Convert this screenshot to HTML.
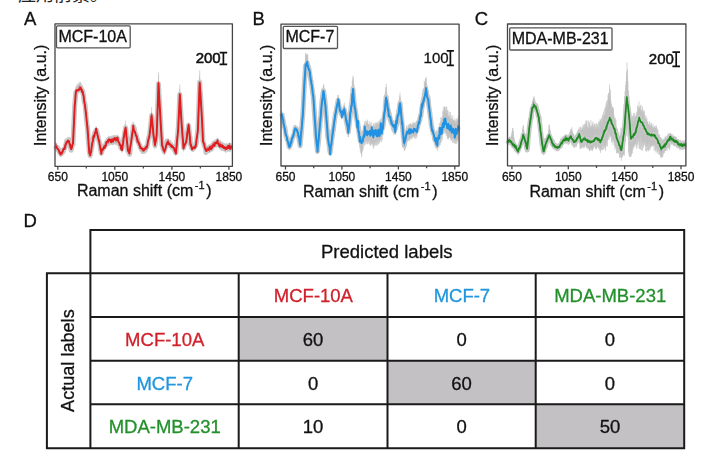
<!DOCTYPE html>
<html><head><meta charset="utf-8"><style>
html,body{margin:0;padding:0;background:#fff;}
body{width:709px;height:458px;overflow:hidden;position:relative;}
.top{position:absolute;left:18px;top:-15.7px;font-family:"Liberation Sans","Noto Sans CJK SC",sans-serif;font-size:18px;line-height:22px;color:#222;white-space:nowrap;letter-spacing:0px;}
svg{position:absolute;left:0;top:0;will-change:transform;}
svg text{font-family:"Liberation Sans",Arial,sans-serif;}
</style></head><body>
<div class="top">应用前景。</div>
<svg width="709" height="458" viewBox="0 0 709 458">
<path d="M55.6,143.8 L56.1,143.7 L56.6,144.8 L57.1,145.2 L57.3,145.2 L57.6,146.3 L58.1,147.1 L58.6,148.5 L59.1,149.1 L59.6,149.6 L60.1,150.2 L60.6,150.8 L60.8,151.7 L61.1,151.8 L61.6,151 L62.1,149.7 L62.6,150.1 L63.1,149.3 L63.6,147.4 L64.1,147.2 L64.6,145.2 L65.1,143.4 L65.6,143 L66.1,141.3 L66.6,139.5 L67.1,140.2 L67.6,139.4 L68.1,138.9 L68.6,138.7 L68.9,138.8 L69.1,139.8 L69.6,141.1 L70.1,143 L70.6,144.5 L71.1,146.3 L71.2,146 L71.6,144.6 L72.1,143.6 L72.6,141.4 L73,140.4 L73.1,137.9 L73.6,127 L74.1,115.4 L74.6,104.9 L74.7,102.5 L75.1,96.9 L75.6,91.2 L75.8,87.5 L76.1,88.8 L76.6,86.7 L77.1,86.9 L77.6,86.2 L78.1,85.1 L78.6,84.8 L79.1,84.7 L79.6,85.3 L80.1,84.7 L80.5,82.8 L80.6,83.5 L81.1,84.2 L81.6,84.7 L82.1,86.6 L82.6,89.2 L82.8,89.1 L83.1,90.4 L83.6,94.3 L84.1,96.1 L84.6,99.4 L85.1,102.8 L85.6,108 L86.1,112.1 L86.6,117.8 L87.1,122.1 L87.4,124.6 L87.6,126.9 L88.1,134.1 L88.6,141.3 L89.1,147.8 L89.3,150.6 L89.6,151.4 L90.1,152.9 L90.2,152.9 L90.6,150.7 L91.1,147.6 L91.6,144.8 L92.1,142.5 L92.6,139.8 L93.1,136.7 L93.2,136 L93.6,135.1 L94.1,133.4 L94.6,131.6 L95.1,131.2 L95.6,128.6 L96.1,127.8 L96.2,127.3 L96.6,128.5 L97.1,130.7 L97.6,133.5 L98.1,134.9 L98.6,137.7 L99,139 L99.1,138.9 L99.6,141.9 L100.1,144.2 L100.6,146.5 L101.1,148.8 L101.3,149.9 L101.6,150.3 L102.1,148.6 L102.6,147.5 L103.1,147 L103.6,145.2 L104.1,144.3 L104.6,143 L105.1,142 L105.6,142.6 L106.1,141.6 L106.6,139.9 L107.1,140.1 L107.6,139.1 L108.1,137.6 L108.2,138.2 L108.6,136.9 L109.1,136.7 L109.6,138.2 L110.1,137.1 L110.6,136.4 L111.1,136 L111.6,137.2 L112.1,137.3 L112.6,135.8 L112.9,135.7 L113.1,137.1 L113.6,136.6 L114.1,136.1 L114.6,135.8 L115.1,137.1 L115.6,136.2 L116.1,135.9 L116.6,136.4 L117.1,137.2 L117.5,137.4 L117.6,137.1 L118.1,136.8 L118.6,139 L119.1,139.8 L119.6,139.9 L119.8,140.8 L120.1,141.3 L120.6,142.8 L121.1,143.1 L121.6,144 L122.1,145.7 L122.6,143.1 L123.1,139.5 L123.6,135.5 L124.1,131.2 L124.6,127.6 L125.1,126.3 L125.6,123.7 L126.1,126.7 L126.6,132 L127.1,138.6 L127.6,143.4 L127.9,146.6 L128.1,147.5 L128.6,148.1 L129.1,150.2 L129.5,150.5 L129.6,149.8 L130.1,146.6 L130.6,141.8 L131.1,139.5 L131.6,134.6 L132.1,132 L132.6,127.7 L133.1,124 L133.2,123.8 L133.6,124.2 L134.1,125.9 L134.6,128.1 L135.1,129.2 L135.6,131.9 L136.1,133.5 L136.6,134.8 L137.1,136.3 L137.2,136.9 L137.6,137.1 L138.1,138.6 L138.6,140.9 L139.1,141.9 L139.6,143.4 L140.1,144.5 L140.6,146.1 L141.1,146.2 L141.6,146.1 L142.1,147.2 L142.6,147.2 L143.1,147.7 L143.5,147.8 L143.6,148.6 L144.1,147.2 L144.6,146.4 L145.1,146.4 L145.6,146.2 L146.1,145.2 L146.6,144.7 L146.9,144.4 L147.1,144.2 L147.6,140.8 L148.1,138.4 L148.6,136.7 L149.1,133.8 L149.6,132 L149.7,129.6 L150.1,125.3 L150.6,120 L151.1,114 L151.6,110.8 L152.1,115.7 L152.6,121.6 L153.1,126.6 L153.4,131.3 L153.6,131.4 L154.1,136.4 L154.6,140.3 L155,143.7 L155.1,142.2 L155.6,138.3 L156.1,134.5 L156.6,131 L156.7,128.7 L157.1,118.2 L157.6,100.2 L158.1,85.9 L158.5,75.8 L158.6,76.5 L159.1,85.8 L159.6,97.7 L160.1,106.3 L160.4,113.8 L160.6,116.6 L161.1,126.4 L161.6,136.7 L162,143.1 L162.1,143.8 L162.6,144.6 L163.1,146.1 L163.6,147.5 L164.1,148.2 L164.3,149.8 L164.6,148.2 L165.1,147 L165.6,145.8 L166.1,143.4 L166.6,142.1 L167.1,140.1 L167.3,139.9 L167.6,140.5 L168.1,140.1 L168.6,141.6 L169.1,142.1 L169.6,141.6 L170.1,142.5 L170.6,143 L171.1,142.9 L171.6,144 L172.1,143.8 L172.6,144.6 L173.1,145.5 L173.6,146.4 L174.1,147.2 L174.6,147.2 L175.1,148.9 L175.6,150.2 L175.9,150.6 L176.1,147.8 L176.6,143.6 L177.1,137.2 L177.6,132.7 L178.1,124.6 L178.2,124.5 L178.6,116.5 L179.1,101.1 L179.6,92 L179.8,85.9 L180.1,91.7 L180.6,102.2 L181.1,111 L181.6,119.8 L181.7,121.5 L182.1,127.5 L182.6,134.4 L183.1,139.8 L183.5,146.3 L183.6,145.5 L184.1,144.8 L184.6,143.4 L185.1,141.5 L185.6,140 L186.1,139.4 L186.3,139.5 L186.6,136.1 L187.1,133.8 L187.6,129.8 L188.1,126.1 L188.6,122.1 L189.1,127.1 L189.6,132.2 L190.1,137.4 L190.5,140.7 L190.6,141 L191.1,142.8 L191.6,144.8 L192.1,147.4 L192.6,146.9 L193.1,146.3 L193.6,145.9 L194.1,145.2 L194.6,145.6 L195.1,144.7 L195.6,144.7 L196.1,140.3 L196.6,137.2 L197.1,132.5 L197.6,128.7 L197.9,125.6 L198.1,117.8 L198.6,105.2 L199.1,88.3 L199.6,76.2 L199.7,75.9 L200.1,79.1 L200.6,91.6 L201.1,98.3 L201.6,110.1 L202.1,119.5 L202.6,130.9 L203,138.8 L203.1,138.3 L203.6,140.6 L204.1,142 L204.6,143.5 L205.1,145.8 L205.6,146.4 L206,147.4 L206.1,148.4 L206.6,147.6 L207.1,147.8 L207.6,146.9 L208.1,147.7 L208.6,146.7 L209.1,146 L209.4,146 L209.6,146.8 L210.1,145 L210.6,145.5 L211.1,143.9 L211.6,143.9 L212.1,144 L212.6,142.4 L213.1,141.8 L213.6,141.5 L214.1,140.6 L214.6,141.5 L215.1,141.2 L215.6,141 L216.1,140 L216.6,139.9 L217.1,139.6 L217.5,139.2 L217.6,139.6 L218.1,140.6 L218.6,140.2 L219.1,141.1 L219.6,141.2 L220.1,140.9 L220.6,142.7 L221,142.3 L221.1,142.3 L221.6,143.2 L222.1,143.1 L222.6,142.5 L223.1,143.9 L223.6,143.5 L224.1,143.5 L224.6,144.6 L225.1,143.8 L225.6,144.7 L226.1,144.8 L226.6,144.3 L227.1,144.8 L227.6,144.1 L228.1,144.8 L228.6,143.6 L229.1,144.2 L229.6,144.6 L230.1,144.2 L230.6,143.3 L231.1,143.3 L231.6,143.8 L231.6,150.2 L231.1,149.7 L230.6,149.4 L230.1,149.8 L229.6,150.3 L229.1,151.2 L228.6,151.4 L228.1,151.1 L227.6,151.5 L227.1,151 L226.6,150.1 L226.1,150.8 L225.6,151.9 L225.1,150.1 L224.6,150 L224.1,150.7 L223.6,149.9 L223.1,150.5 L222.6,149.7 L222.1,149.9 L221.6,148.9 L221.1,149.2 L221,148.9 L220.6,148.6 L220.1,148 L219.6,146.8 L219.1,146.7 L218.6,146.3 L218.1,145.9 L217.6,144.7 L217.5,145.7 L217.1,145.5 L216.6,146.6 L216.1,146.7 L215.6,146.2 L215.1,146.4 L214.6,146.9 L214.1,148.3 L213.6,148.1 L213.1,149.3 L212.6,149.5 L212.1,149.7 L211.6,149.8 L211.1,151 L210.6,151.5 L210.1,151.5 L209.6,151 L209.4,151.4 L209.1,152.3 L208.6,152.3 L208.1,152.1 L207.6,151.7 L207.1,152.7 L206.6,152.1 L206.1,153 L206,153.3 L205.6,151.1 L205.1,149.7 L204.6,148.5 L204.1,147.4 L203.6,145.1 L203.1,144.3 L203,143.9 L202.6,135.8 L202.1,126 L201.6,116 L201.1,107.6 L200.6,99.3 L200.1,91 L199.7,84.1 L199.6,87.5 L199.1,100 L198.6,114.2 L198.1,126.5 L197.9,131.4 L197.6,134.3 L197.1,138 L196.6,141.5 L196.1,145.1 L195.6,149.5 L195.1,149.7 L194.6,149.3 L194.1,150.6 L193.6,150.2 L193.1,151.6 L192.6,151 L192.1,151.1 L191.6,150.2 L191.1,147.7 L190.6,146.2 L190.5,146.5 L190.1,141.2 L189.6,137.2 L189.1,131.9 L188.6,126.6 L188.1,130.6 L187.6,133.8 L187.1,137.7 L186.6,141.8 L186.3,143.5 L186.1,144.1 L185.6,144.7 L185.1,147 L184.6,147.1 L184.1,148.7 L183.6,149.9 L183.5,151.1 L183.1,145.6 L182.6,139.5 L182.1,132.8 L181.7,127.7 L181.6,125.5 L181.1,118 L180.6,109.1 L180.1,102 L179.8,97.6 L179.6,101.1 L179.1,112 L178.6,123.7 L178.2,132.5 L178.1,132.7 L177.6,138.1 L177.1,142.5 L176.6,147.9 L176.1,152.8 L175.9,154.8 L175.6,154.8 L175.1,153.4 L174.6,152.4 L174.1,151.3 L173.6,150.4 L173.1,149.7 L172.6,148.9 L172.1,149.5 L171.6,148.9 L171.1,148 L170.6,147 L170.1,147.1 L169.6,145.9 L169.1,145.7 L168.6,145.3 L168.1,145.6 L167.6,145.5 L167.3,144.3 L167.1,145.4 L166.6,146.7 L166.1,147.7 L165.6,150.3 L165.1,151 L164.6,153.1 L164.3,154.6 L164.1,152.7 L163.6,152.6 L163.1,150.8 L162.6,149.3 L162.1,148.5 L162,148.5 L161.6,140.9 L161.1,132.1 L160.6,124.3 L160.4,121 L160.1,114.2 L159.6,105.1 L159.1,96.9 L158.6,86.8 L158.5,85.4 L158.1,96.5 L157.6,110.5 L157.1,125 L156.7,137 L156.6,137.5 L156.1,140.9 L155.6,144.2 L155.1,146.9 L155,148.3 L154.6,144.9 L154.1,140.9 L153.6,138.4 L153.4,136.1 L153.1,133.7 L152.6,127.7 L152.1,123.4 L151.6,118.7 L151.1,123.1 L150.6,128 L150.1,131.9 L149.7,136.9 L149.6,136.2 L149.1,139.8 L148.6,141.9 L148.1,143.9 L147.6,145.5 L147.1,148.6 L146.9,149.7 L146.6,149.3 L146.1,149.9 L145.6,150.6 L145.1,150.4 L144.6,151.2 L144.1,152.6 L143.6,152.7 L143.5,152.7 L143.1,152.1 L142.6,152.5 L142.1,151.6 L141.6,150.7 L141.1,150.2 L140.6,150 L140.1,149.8 L139.6,148.1 L139.1,146.1 L138.6,144.6 L138.1,143.7 L137.6,142.2 L137.2,141.7 L137.1,141.2 L136.6,140 L136.1,137.6 L135.6,136.7 L135.1,135 L134.6,133.4 L134.1,132.7 L133.6,131.2 L133.2,129 L133.1,130.8 L132.6,134.1 L132.1,137.5 L131.6,140.1 L131.1,143.9 L130.6,148.2 L130.1,150.6 L129.6,154.8 L129.5,154.6 L129.1,154.3 L128.6,153.5 L128.1,153.3 L127.9,152.5 L127.6,149.9 L127.1,145.3 L126.6,139.4 L126.1,134.9 L125.6,129.7 L125.1,133.3 L124.6,136.4 L124.1,138.8 L123.6,142 L123.1,145.7 L122.6,148.6 L122.1,152.4 L121.6,152.1 L121.1,149.8 L120.6,148.3 L120.1,146.7 L119.8,146 L119.6,145.5 L119.1,146.2 L118.6,144.1 L118.1,145 L117.6,144.3 L117.5,142.7 L117.1,142.5 L116.6,144.1 L116.1,143.6 L115.6,143.7 L115.1,144 L114.6,142.9 L114.1,143.8 L113.6,143 L113.1,142.4 L112.9,142.8 L112.6,143.4 L112.1,143 L111.6,143.1 L111.1,143.9 L110.6,143.8 L110.1,144.8 L109.6,144.4 L109.1,144.4 L108.6,144.4 L108.2,145.3 L108.1,145.5 L107.6,144.3 L107.1,145.6 L106.6,146.9 L106.1,146.7 L105.6,147.9 L105.1,149.4 L104.6,150.3 L104.1,150.3 L103.6,151.6 L103.1,152.6 L102.6,152.6 L102.1,153.4 L101.6,154 L101.3,155.2 L101.1,154.2 L100.6,151.4 L100.1,148.5 L99.6,147 L99.1,143.3 L99,144.1 L98.6,141.8 L98.1,139.7 L97.6,138.3 L97.1,135.4 L96.6,133.7 L96.2,131.9 L96.1,131.7 L95.6,134.4 L95.1,135.4 L94.6,136.3 L94.1,138.9 L93.6,140 L93.2,141.5 L93.1,141.8 L92.6,144.1 L92.1,147.1 L91.6,149.7 L91.1,152.7 L90.6,156 L90.2,157.1 L90.1,156.8 L89.6,156.4 L89.3,155.7 L89.1,151.8 L88.6,145.1 L88.1,138.2 L87.6,131.7 L87.4,128.9 L87.1,127.1 L86.6,122.5 L86.1,118.2 L85.6,112.9 L85.1,108.2 L84.6,105.6 L84.1,102.1 L83.6,99.5 L83.1,96.7 L82.8,94.3 L82.6,95 L82.1,93.9 L81.6,93.2 L81.1,91.5 L80.6,90.3 L80.5,90.3 L80.1,90.7 L79.6,91.4 L79.1,91.4 L78.6,92.3 L78.1,93 L77.6,92.6 L77.1,93.3 L76.6,93.7 L76.1,94.4 L75.8,95.1 L75.6,97.2 L75.1,103.1 L74.7,107.9 L74.6,111.2 L74.1,122.2 L73.6,132.5 L73.1,142.9 L73,145.6 L72.6,146.4 L72.1,148.3 L71.6,149.8 L71.2,151 L71.1,151.6 L70.6,150 L70.1,147.5 L69.6,145.7 L69.1,144.3 L68.9,144.1 L68.6,143.6 L68.1,143.6 L67.6,143.8 L67.1,145 L66.6,144 L66.1,146.7 L65.6,147.9 L65.1,149.3 L64.6,150.5 L64.1,151.9 L63.6,152.8 L63.1,153.3 L62.6,154.6 L62.1,155 L61.6,155.4 L61.1,155.4 L60.8,155.9 L60.6,156.6 L60.1,155.7 L59.6,154.7 L59.1,153.5 L58.6,152.4 L58.1,151.4 L57.6,151.5 L57.3,151 L57.1,149.6 L56.6,150.1 L56.1,148.5 L55.6,147.7Z" fill="#cdcdcd"/><path d="M55.6,142V147.8M56.1,142.9V149.8M56.6,143.9V149.5M57.1,145.5V151.3M57.3,145V151M57.6,145.9V150.9M58.1,145.8V153M58.6,146.7V153.8M59.1,148.2V154.7M59.6,149.4V155.2M60.1,150.1V155.6M60.6,150.1V156.5M60.8,150.3V157.1M61.1,150.9V156.2M61.6,150.8V156.2M62.1,149.1V155.2M62.6,149.1V155.9M63.1,148.7V155.3M63.6,146.8V153.3M64.1,145.8V151.3M64.6,144.6V151.1M65.1,143.7V148.6M65.6,142.7V147.5M66.1,141.1V147.2M66.6,139.4V145.5M67.1,139.4V144.8M67.6,138.7V145.3M68.1,139V144.5M68.6,138V145.1M68.9,138.4V144M69.1,138.6V144.3M69.6,140.3V147.4M70.1,142.5V148.3M70.6,144.4V150.1M71.1,144.6V151.9M71.2,146.2V151.9M71.6,144.1V151.4M72.1,142.6V149.2M72.6,140.1V146.9M73,138.3V146.1M73.1,137.3V144.5M73.6,126.4V132.6M74.1,115.3V122.5M74.6,104.5V111.3M74.7,102V109.3M75.1,97.1V104.7M75.6,88.8V97.8M75.8,87.6V95.8M76.1,86.2V94.6M76.6,85.6V95.3M77.1,84.6V94.1M77.6,83.8V93.8M78.1,85V92.9M78.6,83.3V92.8M79.1,82.2V92.6M79.6,83.5V91.7M80.1,81.5V91.3M80.5,82.8V91.7M80.6,82.4V90.9M81.1,83.4V91.9M81.6,85.2V93.5M82.1,85.1V94.1M82.6,87.9V95.2M82.8,87.8V95.5M83.1,90.1V97.8M83.6,93.4V99.7M84.1,95.6V103.8M84.6,99.8V106M85.1,102.3V110.2M85.6,107.6V114.1M86.1,112.2V118.9M86.6,116.5V122.8M87.1,120.8V127.6M87.4,124.3V130.1M87.6,125.9V133.4M88.1,133.4V139.9M88.6,140.7V146.2M89.1,146.4V152.6M89.3,149V156.4M89.6,150.2V156.4M90.1,152.5V157.6M90.2,151.8V158.1M90.6,149.5V155.6M91.1,146.8V153.9M91.6,144.3V150.1M92.1,142.3V147.2M92.6,139.8V145.5M93.1,136.4V142.9M93.2,136.2V141.7M93.6,134.1V141.5M94.1,133.7V139.6M94.6,131.5V136.8M95.1,129.8V135.7M95.6,128.7V135.2M96.1,126.6V132.2M96.2,126.3V131.8M96.6,127.7V134.4M97.1,130.1V135.6M97.6,133V138.4M98.1,134.6V141M98.6,136.8V142.4M99,138.7V144.2M99.1,138.1V144.3M99.6,140.8V146.7M100.1,143.2V149.8M100.6,146.7V152.8M101.1,148V154.4M101.3,150.1V155.6M101.6,148.9V156.2M102.1,147.2V154.2M102.6,147.4V153.8M103.1,145.5V152.2M103.6,144.3V152.6M104.1,144.3V150.7M104.6,142.1V149.7M105.1,142.6V149M105.6,140.5V148.2M106.1,141V148.6M106.6,138.8V148.2M107.1,138.6V147.8M107.6,138.3V146.1M108.1,137V145.7M108.2,137.3V144.6M108.6,135.4V144.9M109.1,136.4V146.1M109.6,136.7V144.8M110.1,136V144M110.6,137.1V145.1M111.1,136.2V143.8M111.6,136.3V145M112.1,135.1V144.5M112.6,136.2V145.1M112.9,136.1V144.9M113.1,136.3V145.3M113.6,134.9V144.3M114.1,135.6V144.5M114.6,135.1V144.4M115.1,135.1V143.4M115.6,135.7V144.9M116.1,135.6V145.3M116.6,135.4V143.9M117.1,134.6V144.1M117.5,135.4V144.6M117.6,134.9V143.8M118.1,135.6V145.3M118.6,137.4V145.6M119.1,136.8V147.6M119.6,138.5V147.1M119.8,137.9V146.6M120.1,140.6V148.4M120.6,140.7V148.6M121.1,142.8V150.1M121.6,143.9V151.5M122.1,145.4V152.7M122.6,141.6V149.5M123.1,137.4V146.8M123.6,135.6V144.1M124.1,130.3V140.3M124.6,129V137.7M125.1,123.4V134.9M125.6,120.4V131.1M126.1,126.8V135.4M126.6,133V141.5M127.1,137.2V145.5M127.6,143.8V150.5M127.9,145.8V153.3M128.1,147.6V153.9M128.6,148.2V155.1M129.1,148.7V155.3M129.5,148.8V156.4M129.6,149.4V154.8M130.1,145.5V151M130.6,141.2V148.6M131.1,138.3V145.4M131.6,133.9V140.9M132.1,129.8V138.2M132.6,125.7V135.2M133.1,121.5V130.9M133.2,122.1V129.5M133.6,123.4V130.9M134.1,125.8V133.4M134.6,127.8V133.8M135.1,128.4V135.9M135.6,130.7V137.8M136.1,132.8V138.2M136.6,134V139.5M137.1,135.3V142.3M137.2,135.4V142.5M137.6,137.6V142.9M138.1,137.8V144.9M138.6,139.6V146M139.1,141.4V146.7M139.6,143.1V149.1M140.1,144.1V150.6M140.6,145.9V151.7M141.1,145.6V150.9M141.6,145.8V152.3M142.1,146.1V152.7M142.6,146.5V153.2M143.1,147.4V153.9M143.5,147.5V153.1M143.6,146.7V153M144.1,147V153.2M144.6,146V152.1M145.1,146.5V152M145.6,145.2V151.7M146.1,145.2V151.3M146.6,143.9V150.9M146.9,143.6V150.3M147.1,143V149.7M147.6,141.1V147.1M148.1,138V145M148.6,136.5V141.9M149.1,132.4V140.4M149.6,130.9V137.6M149.7,128.9V137.8M150.1,124.8V132.7M150.6,119.8V127.7M151.1,114.4V122.9M151.6,107.2V119.1M152.1,113.7V124.5M152.6,120.6V128.5M153.1,125.4V134.2M153.4,130.2V137.9M153.6,130.9V138.8M154.1,135.7V142.4M154.6,140.2V145.6M155,142.2V149M155.1,141.7V147.4M155.6,138.3V145.5M156.1,132.9V141.8M156.6,130.3V137.2M156.7,129V137.7M157.1,116.5V125.4M157.6,100.5V112.1M158.1,83.8V98.2M158.5,74.6V85.6M158.6,72.3V87.5M159.1,83V97.5M159.6,96.1V106.1M160.1,105.1V114.8M160.4,111.1V120.4M160.6,117.2V124.8M161.1,126.9V134M161.6,135.5V141.2M162,143.1V148.9M162.1,142.3V148.7M162.6,144.4V150.4M163.1,145.3V151.9M163.6,147.1V152.6M164.1,147.6V154.7M164.3,148.7V155.4M164.6,148.1V154.2M165.1,145.6V152.3M165.6,144.3V149.9M166.1,142.6V149.4M166.6,141.4V147.7M167.1,140.5V146.6M167.3,139.4V145.6M167.6,140.1V145.9M168.1,140.4V146.5M168.6,141.1V145.9M169.1,141.3V146.7M169.6,140.8V146.5M170.1,141.6V147M170.6,142.4V147.9M171.1,143.2V148.7M171.6,143.4V148.8M172.1,143.5V149.3M172.6,143.5V149.8M173.1,144V150.2M173.6,144.6V150.5M174.1,146.9V151.6M174.6,146.9V152.8M175.1,148.5V154.5M175.6,149.8V155.3M175.9,149.9V155.3M176.1,147.1V153.6M176.6,142.7V149.1M177.1,136.2V143.3M177.6,131.8V139.4M178.1,124.8V133.7M178.2,123.4V133.1M178.6,113.5V124.3M179.1,100.8V112.4M179.6,89.1V102.8M179.8,84.5V97.7M180.1,92V103M180.6,99.1V110.3M181.1,108.6V118.4M181.6,118.1V126.1M181.7,119.6V127.3M182.1,126.2V133.1M182.6,132.2V139.5M183.1,139.7V146.7M183.5,144.6V151.5M183.6,144.7V151.1M184.1,144.1V149.1M184.6,143.1V147.8M185.1,141V147.4M185.6,140.6V146.5M186.1,138.8V144.8M186.3,138.8V144.8M186.6,136.7V141.6M187.1,132.6V138.6M187.6,129V135.7M188.1,126.2V131.8M188.6,122.1V128.5M189.1,126.6V133.4M189.6,131.2V138.2M190.1,137.1V142.7M190.5,140.1V146.9M190.6,140.3V146.7M191.1,143.4V149M191.6,144.8V150.7M192.1,146.9V152.1M192.6,145.8V151.4M193.1,145.9V151.1M193.6,144.8V151.8M194.1,144.8V151M194.6,144V150.3M195.1,144V149.7M195.6,143.8V149.5M196.1,140.8V146.9M196.6,136.3V143.2M197.1,131.2V138.9M197.6,126.3V135.7M197.9,124.3V133.4M198.1,118.2V126.7M198.6,100.8V113.5M199.1,87.9V101.5M199.6,75.1V88.2M199.7,70.4V85.5M200.1,80V92.1M200.6,86.1V99.4M201.1,96V108.9M201.6,108.2V117.1M202.1,117.9V125.7M202.6,129.2V137M203,137.4V143.6M203.1,138.4V144.6M203.6,140.2V145.9M204.1,142.2V146.8M204.6,143.4V149M205.1,144.6V151.5M205.6,146.8V152.1M206,146.8V154.2M206.1,147.9V153.9M206.6,147.6V154.2M207.1,147.1V153.5M207.6,146.5V153.3M208.1,146.7V152.9M208.6,146.3V153.2M209.1,145.8V153M209.4,145.5V153.1M209.6,144.5V152.7M210.1,144.7V152.4M210.6,144.1V151.6M211.1,144.1V151.4M211.6,143.5V151.2M212.1,141.7V151.1M212.6,141.4V149.4M213.1,142.4V148.9M213.6,140.8V148.2M214.1,141.3V149.5M214.6,140.5V147.3M215.1,139.8V148.2M215.6,139.6V146.7M216.1,139.1V146.3M216.6,138.3V147.7M217.1,139.4V146.6M217.5,137.5V146.5M217.6,139V145.4M218.1,138.9V145.9M218.6,138.6V147.3M219.1,140.1V148.3M219.6,140.8V148.3M220.1,140.7V147.9M220.6,140.6V149.6M221,142.2V149.5M221.1,142V150.5M221.6,141.6V150.8M222.1,141.6V150.8M222.6,142.8V151.1M223.1,143V151.3M223.6,142.5V151M224.1,143.9V151.4M224.6,143.2V151.8M225.1,144.6V151.2M225.6,143.9V152.7M226.1,144.4V152.7M226.6,142.9V151M227.1,143.3V151.5M227.6,144.3V151.1M228.1,143.8V150.6M228.6,143V151.3M229.1,143.7V152.1M229.6,142.3V151.2M230.1,143.5V151.4M230.6,143.3V151.8M231.1,143.4V150.2M231.6,143.8V150.2" stroke="#c2c2c2" stroke-width="0.7" fill="none"/><path d="M55.6,146 L56.1,147.6 L56.6,147.1 L57.1,148.1 L57.3,147.3 L57.6,148.9 L58.1,150 L58.6,148.9 L59.1,150.5 L59.6,152.4 L60.1,151.2 L60.6,153.1 L60.8,154.2 L61.1,152 L61.6,152.6 L62.1,152.4 L62.6,152.6 L63.1,150.4 L63.6,151 L64.1,149 L64.6,148.4 L65.1,147.1 L65.6,145.1 L66.1,143.9 L66.6,140.8 L67.1,140.9 L67.6,140.9 L68.1,141.1 L68.6,141.9 L68.9,139.6 L69.1,141.4 L69.6,142.4 L70.1,143.9 L70.6,148.1 L71.1,148.7 L71.2,150.3 L71.6,148.6 L72.1,145.3 L72.6,142.8 L73,144.7 L73.1,140.5 L73.6,129 L74.1,119.6 L74.6,108.3 L74.7,105.5 L75.1,100.8 L75.6,95 L75.8,92.5 L76.1,92.7 L76.6,91.3 L77.1,90.8 L77.6,91 L78.1,90.3 L78.6,90.4 L79.1,88.9 L79.6,88.5 L80.1,87.2 L80.5,89 L80.6,86.9 L81.1,89.2 L81.6,89.3 L82.1,91.3 L82.6,92.6 L82.8,91.1 L83.1,94 L83.6,95.8 L84.1,101.4 L84.6,102.9 L85.1,105 L85.6,110.2 L86.1,116.3 L86.6,121 L87.1,125.3 L87.4,126.4 L87.6,129.6 L88.1,137.7 L88.6,142.6 L89.1,149.6 L89.3,151.8 L89.6,152.5 L90.1,155.7 L90.2,155.5 L90.6,153.2 L91.1,150.6 L91.6,148.2 L92.1,145.9 L92.6,142 L93.1,139 L93.2,137.9 L93.6,138.3 L94.1,135.5 L94.6,133.2 L95.1,132.6 L95.6,131.3 L96.1,130.4 L96.2,130.2 L96.6,130.5 L97.1,132.5 L97.6,134.9 L98.1,136.3 L98.6,139.3 L99,141.4 L99.1,141.5 L99.6,142.7 L100.1,145.6 L100.6,150.1 L101.1,150.8 L101.3,153.2 L101.6,152.5 L102.1,150.7 L102.6,149.2 L103.1,149.2 L103.6,147.3 L104.1,147.1 L104.6,146.6 L105.1,145.1 L105.6,144.8 L106.1,143.9 L106.6,142.4 L107.1,142.5 L107.6,141.4 L108.1,139.7 L108.2,140.7 L108.6,140.7 L109.1,140.3 L109.6,139 L110.1,141.2 L110.6,141 L111.1,140.8 L111.6,140.5 L112.1,139.1 L112.6,140.1 L112.9,139.2 L113.1,141.7 L113.6,139.5 L114.1,140.4 L114.6,138.7 L115.1,139 L115.6,139.5 L116.1,140.5 L116.6,140.3 L117.1,140.1 L117.5,138.4 L117.6,141 L118.1,140 L118.6,142.8 L119.1,143.8 L119.6,143.7 L119.8,144.1 L120.1,143 L120.6,147.4 L121.1,146.8 L121.6,148.6 L122.1,148.4 L122.6,145.9 L123.1,141.9 L123.6,139.5 L124.1,136.5 L124.6,133.6 L125.1,131.4 L125.6,127.5 L126.1,132.3 L126.6,137.2 L127.1,143.8 L127.6,146.8 L127.9,151.3 L128.1,149 L128.6,150.6 L129.1,152.4 L129.5,152.5 L129.6,154.3 L130.1,150.5 L130.6,143.8 L131.1,140.7 L131.6,138 L132.1,136.1 L132.6,132.1 L133.1,128.1 L133.2,126 L133.6,127.6 L134.1,127.6 L134.6,129.9 L135.1,133 L135.6,134.7 L136.1,134.5 L136.6,137 L137.1,139.7 L137.2,138.8 L137.6,139.6 L138.1,141.7 L138.6,143 L139.1,144 L139.6,144.8 L140.1,146.3 L140.6,148.1 L141.1,148 L141.6,149.9 L142.1,149.9 L142.6,150.5 L143.1,151.6 L143.5,151.6 L143.6,151.3 L144.1,150 L144.6,149 L145.1,150.5 L145.6,147.6 L146.1,147.1 L146.6,146.4 L146.9,147 L147.1,146.2 L147.6,144.4 L148.1,141.1 L148.6,137.6 L149.1,137 L149.6,135.2 L149.7,134 L150.1,130 L150.6,125.7 L151.1,121.6 L151.6,115.6 L152.1,119.6 L152.6,125.4 L153.1,130.8 L153.4,132.6 L153.6,136.1 L154.1,138.5 L154.6,143.1 L155,145.8 L155.1,144.7 L155.6,142.8 L156.1,137.6 L156.6,134.1 L156.7,134.2 L157.1,123.4 L157.6,108.5 L158.1,93.6 L158.5,83.7 L158.6,85.4 L159.1,95.8 L159.6,103.1 L160.1,112.6 L160.4,117.4 L160.6,120.2 L161.1,130.1 L161.6,139.4 L162,144.8 L162.1,145.3 L162.6,146.2 L163.1,149.4 L163.6,149.1 L164.1,151.4 L164.3,150.7 L164.6,150.5 L165.1,148.4 L165.6,145.5 L166.1,145.9 L166.6,144.8 L167.1,141.1 L167.3,142.1 L167.6,142.1 L168.1,142 L168.6,143.1 L169.1,142.1 L169.6,144.3 L170.1,145.4 L170.6,144 L171.1,145.4 L171.6,147.1 L172.1,146.6 L172.6,146.6 L173.1,146.8 L173.6,148.1 L174.1,148.9 L174.6,150.5 L175.1,149.8 L175.6,152.9 L175.9,152.3 L176.1,151.1 L176.6,145 L177.1,139.5 L177.6,135 L178.1,129.6 L178.2,129.1 L178.6,121.2 L179.1,110.7 L179.6,99.2 L179.8,94.3 L180.1,99.1 L180.6,107.8 L181.1,116.2 L181.6,123 L181.7,124.7 L182.1,129.4 L182.6,136.6 L183.1,143.6 L183.5,145.7 L183.6,148 L184.1,146.1 L184.6,143.4 L185.1,144.3 L185.6,142.7 L186.1,141.8 L186.3,139.9 L186.6,140.6 L187.1,135.5 L187.6,131.6 L188.1,129.5 L188.6,125.3 L189.1,130.3 L189.6,135.5 L190.1,137.7 L190.5,144.6 L190.6,143.4 L191.1,145.7 L191.6,148 L192.1,148.5 L192.6,149 L193.1,149.1 L193.6,148.1 L194.1,148.2 L194.6,146.2 L195.1,146.2 L195.6,145.9 L196.1,143.3 L196.6,142.2 L197.1,135.7 L197.6,131.6 L197.9,129.3 L198.1,124.9 L198.6,111.5 L199.1,96.9 L199.6,85.4 L199.7,82 L200.1,89.2 L200.6,95.2 L201.1,103.7 L201.6,113.7 L202.1,121.7 L202.6,133.4 L203,141.3 L203.1,141.4 L203.6,143.1 L204.1,144.6 L204.6,146.3 L205.1,147.2 L205.6,149 L206,152.6 L206.1,151.2 L206.6,150.6 L207.1,150.2 L207.6,149.2 L208.1,149.7 L208.6,149.2 L209.1,150 L209.4,148.4 L209.6,147 L210.1,148 L210.6,148.5 L211.1,149.4 L211.6,147.8 L212.1,145.7 L212.6,145.8 L213.1,144.7 L213.6,144.8 L214.1,143.8 L214.6,142.8 L215.1,144.2 L215.6,143.6 L216.1,143 L216.6,143.1 L217.1,144.1 L217.5,142.3 L217.6,142 L218.1,143.5 L218.6,142 L219.1,144.4 L219.6,143.6 L220.1,144.1 L220.6,145.3 L221,146.9 L221.1,145.1 L221.6,146.7 L222.1,146.5 L222.6,145.3 L223.1,147.4 L223.6,146.3 L224.1,146 L224.6,146.8 L225.1,147.2 L225.6,148.5 L226.1,147.3 L226.6,149 L227.1,147.9 L227.6,147.1 L228.1,146.9 L228.6,147.6 L229.1,145.7 L229.6,145.5 L230.1,146.4 L230.6,147.6 L231.1,147.1 L231.6,146.9" fill="none" stroke="#c8c8c8" stroke-width="5.0" stroke-linejoin="round"/><path d="M55.6,145.2 L56.1,143.6 L56.6,146.5 L57.1,145.6 L57.3,149 L57.6,148.5 L58.1,149.2 L58.6,150.6 L59.1,151.3 L59.6,152 L60.1,153 L60.6,152.7 L60.8,152.1 L61.1,153.8 L61.6,154.6 L62.1,153.6 L62.6,151.6 L63.1,152.1 L63.6,149.6 L64.1,149.2 L64.6,146.7 L65.1,146.3 L65.6,147.2 L66.1,144.4 L66.6,144 L67.1,141 L67.6,140.9 L68.1,141.4 L68.6,141.8 L68.9,140.7 L69.1,142.9 L69.6,142.8 L70.1,146.8 L70.6,148.1 L71.1,147.3 L71.2,149.7 L71.6,147.4 L72.1,147.2 L72.6,143.7 L73,143.4 L73.1,141.5 L73.6,126.6 L74.1,116.8 L74.6,108.3 L74.7,105.8 L75.1,102.3 L75.6,95.1 L75.8,90.9 L76.1,92.5 L76.6,90.7 L77.1,90.8 L77.6,89.9 L78.1,90.4 L78.6,87.8 L79.1,87.7 L79.6,86 L80.1,90.7 L80.5,86.6 L80.6,87 L81.1,87.6 L81.6,89.2 L82.1,90.5 L82.6,92.7 L82.8,92.6 L83.1,94.6 L83.6,96.5 L84.1,100.2 L84.6,104.7 L85.1,106.3 L85.6,111.2 L86.1,112.9 L86.6,120.4 L87.1,124.6 L87.4,128.5 L87.6,126.4 L88.1,136.5 L88.6,143 L89.1,150 L89.3,151.8 L89.6,153.6 L90.1,155.6 L90.2,155 L90.6,152.5 L91.1,149.8 L91.6,146.9 L92.1,144.7 L92.6,141.1 L93.1,136.8 L93.2,140.3 L93.6,135.3 L94.1,135.7 L94.6,132.8 L95.1,132.4 L95.6,130.1 L96.1,129.6 L96.2,128.4 L96.6,129.5 L97.1,133.5 L97.6,136.8 L98.1,137.6 L98.6,139.4 L99,139.7 L99.1,141.4 L99.6,144.5 L100.1,145.7 L100.6,150.1 L101.1,151.5 L101.3,153 L101.6,151.4 L102.1,150.4 L102.6,150.2 L103.1,149.4 L103.6,148.4 L104.1,146 L104.6,145.5 L105.1,145.6 L105.6,142.7 L106.1,145.4 L106.6,143.8 L107.1,142.7 L107.6,141 L108.1,142.1 L108.2,140.6 L108.6,143.1 L109.1,141.2 L109.6,138.8 L110.1,141.4 L110.6,139.7 L111.1,139.6 L111.6,139.9 L112.1,139.9 L112.6,140.2 L112.9,140.8 L113.1,140.4 L113.6,139 L114.1,138.2 L114.6,138.9 L115.1,140.3 L115.6,140.9 L116.1,142 L116.6,138.2 L117.1,139.9 L117.5,139.6 L117.6,139.5 L118.1,140.9 L118.6,141.2 L119.1,141.9 L119.6,142.2 L119.8,143.7 L120.1,145.3 L120.6,147.2 L121.1,145.9 L121.6,146.5 L122.1,148.7 L122.6,144.9 L123.1,144 L123.6,138.6 L124.1,136.5 L124.6,131.7 L125.1,129.8 L125.6,127.3 L126.1,133.9 L126.6,136.3 L127.1,142.6 L127.6,144.7 L127.9,148.8 L128.1,149.5 L128.6,150.6 L129.1,152.5 L129.5,153.3 L129.6,149.9 L130.1,149 L130.6,143.6 L131.1,143.7 L131.6,138.4 L132.1,134.8 L132.6,130.9 L133.1,127.7 L133.2,127 L133.6,127.4 L134.1,130.5 L134.6,131.4 L135.1,133.4 L135.6,133.9 L136.1,136.2 L136.6,136 L137.1,142.6 L137.2,137.8 L137.6,139.2 L138.1,142.2 L138.6,143.9 L139.1,142.9 L139.6,143.2 L140.1,144.9 L140.6,146.7 L141.1,147.4 L141.6,148.5 L142.1,150.3 L142.6,150.8 L143.1,149.2 L143.5,150.9 L143.6,151.2 L144.1,151.3 L144.6,148.9 L145.1,147.7 L145.6,149 L146.1,149.4 L146.6,146.4 L146.9,149.1 L147.1,147.9 L147.6,143.2 L148.1,139.4 L148.6,138.2 L149.1,136.2 L149.6,135 L149.7,131.9 L150.1,133 L150.6,128 L151.1,119.5 L151.6,113.3 L152.1,120.4 L152.6,126.2 L153.1,132.5 L153.4,134.8 L153.6,135.1 L154.1,136.6 L154.6,143.2 L155,146.5 L155.1,144.5 L155.6,141.8 L156.1,138.3 L156.6,134.3 L156.7,132.5 L157.1,123 L157.6,106.8 L158.1,96 L158.5,81.9 L158.6,85.4 L159.1,93.1 L159.6,103.6 L160.1,112.1 L160.4,118.5 L160.6,120.3 L161.1,128 L161.6,138.2 L162,145.1 L162.1,144 L162.6,146.2 L163.1,146.3 L163.6,149.7 L164.1,150.4 L164.3,151.3 L164.6,153.5 L165.1,149 L165.6,147.8 L166.1,146.5 L166.6,144.1 L167.1,142 L167.3,143.2 L167.6,143.6 L168.1,139.3 L168.6,143 L169.1,143.2 L169.6,143.3 L170.1,145.9 L170.6,144.3 L171.1,146.4 L171.6,145.3 L172.1,145.9 L172.6,147.8 L173.1,146.5 L173.6,147.7 L174.1,147.6 L174.6,148.8 L175.1,151.8 L175.6,152.6 L175.9,151.1 L176.1,149.1 L176.6,148.5 L177.1,139.6 L177.6,134.3 L178.1,130.9 L178.2,128.4 L178.6,120.2 L179.1,110.9 L179.6,100.1 L179.8,94.4 L180.1,101 L180.6,107.1 L181.1,114.9 L181.6,123.1 L181.7,124.3 L182.1,130.5 L182.6,136.6 L183.1,141.8 L183.5,148.1 L183.6,147 L184.1,145.7 L184.6,145 L185.1,145.1 L185.6,143 L186.1,142.9 L186.3,142.8 L186.6,138.7 L187.1,134.5 L187.6,130.8 L188.1,128.6 L188.6,125.7 L189.1,131.5 L189.6,132.9 L190.1,140.4 L190.5,144.5 L190.6,146.5 L191.1,145.6 L191.6,147.2 L192.1,147.2 L192.6,147.7 L193.1,147 L193.6,146.8 L194.1,146.6 L194.6,145.5 L195.1,146.9 L195.6,147.2 L196.1,143.8 L196.6,139 L197.1,136.6 L197.6,132.9 L197.9,127.5 L198.1,123.7 L198.6,109.4 L199.1,96.5 L199.6,84.8 L199.7,81.8 L200.1,90.2 L200.6,99.2 L201.1,105.4 L201.6,112.9 L202.1,122.9 L202.6,133 L203,141.6 L203.1,140.4 L203.6,143.5 L204.1,144 L204.6,147.2 L205.1,149.1 L205.6,151.1 L206,150 L206.1,148.6 L206.6,148 L207.1,149.5 L207.6,148 L208.1,147.5 L208.6,148.9 L209.1,148 L209.4,149.9 L209.6,151.2 L210.1,148.1 L210.6,148.2 L211.1,145.5 L211.6,147.1 L212.1,145.6 L212.6,144.6 L213.1,143.2 L213.6,146.8 L214.1,142.5 L214.6,142.7 L215.1,143.8 L215.6,143.8 L216.1,143.4 L216.6,142.9 L217.1,141.3 L217.5,143.1 L217.6,142.5 L218.1,141 L218.6,145.1 L219.1,143.3 L219.6,145.3 L220.1,142.9 L220.6,143.7 L221,144.9 L221.1,144.8 L221.6,147.1 L222.1,144.2 L222.6,146.6 L223.1,145.4 L223.6,147.5 L224.1,147.4 L224.6,146.8 L225.1,150.4 L225.6,147.9 L226.1,149.2 L226.6,146.2 L227.1,147.5 L227.6,147.7 L228.1,147.7 L228.6,147 L229.1,146.3 L229.6,143.5 L230.1,146.4 L230.6,145.9 L231.1,146.6 L231.6,147.9" fill="none" stroke="#e01c1f" stroke-width="1.1" stroke-opacity="0.55" stroke-linejoin="round"/><path d="M55.6,146.9 L56.1,146.5 L56.6,147.6 L57.1,148.1 L57.3,148.5 L57.6,148.9 L58.1,149.1 L58.6,149.9 L59.1,151.1 L59.6,153 L60.1,153.1 L60.6,154.5 L60.8,152.8 L61.1,153.6 L61.6,153.2 L62.1,152.8 L62.6,150.9 L63.1,150.1 L63.6,148.6 L64.1,148.5 L64.6,149.1 L65.1,146.3 L65.6,144 L66.1,143.7 L66.6,142 L67.1,142.1 L67.6,141.4 L68.1,140.5 L68.6,140.8 L68.9,141.5 L69.1,141.9 L69.6,144.3 L70.1,144.4 L70.6,147.6 L71.1,148.7 L71.2,149.1 L71.6,148.5 L72.1,145.9 L72.6,144.5 L73,143.5 L73.1,141.3 L73.6,130.5 L74.1,120 L74.6,108.6 L74.7,105.7 L75.1,102.8 L75.6,94.9 L75.8,92.7 L76.1,91.6 L76.6,90.1 L77.1,90.5 L77.6,90.6 L78.1,90.4 L78.6,89.6 L79.1,89.7 L79.6,89.3 L80.1,88.9 L80.5,87.8 L80.6,88.1 L81.1,88.9 L81.6,89.4 L82.1,92 L82.6,91.2 L82.8,92.4 L83.1,94.4 L83.6,95.8 L84.1,100.8 L84.6,103.1 L85.1,106.5 L85.6,110.6 L86.1,114.3 L86.6,120 L87.1,124.4 L87.4,127.7 L87.6,130.1 L88.1,135.3 L88.6,144 L89.1,150.5 L89.3,153.2 L89.6,153.8 L90.1,154.3 L90.2,155.4 L90.6,152.6 L91.1,152.2 L91.6,147.3 L92.1,143.9 L92.6,141.8 L93.1,140.3 L93.2,138.3 L93.6,135.8 L94.1,137 L94.6,134.6 L95.1,132.5 L95.6,131.8 L96.1,129.1 L96.2,128.6 L96.6,131.8 L97.1,132.8 L97.6,135.6 L98.1,137.3 L98.6,140 L99,141.1 L99.1,140.1 L99.6,144.5 L100.1,146.2 L100.6,149.8 L101.1,151.7 L101.3,153.8 L101.6,151.8 L102.1,149.3 L102.6,149.7 L103.1,149.5 L103.6,147.7 L104.1,146.8 L104.6,148.1 L105.1,145.6 L105.6,146.2 L106.1,144.4 L106.6,141.9 L107.1,141.7 L107.6,141.6 L108.1,141.5 L108.2,140.2 L108.6,139.4 L109.1,139.7 L109.6,140.1 L110.1,139.6 L110.6,139.8 L111.1,142.4 L111.6,140.6 L112.1,139.2 L112.6,140 L112.9,141.7 L113.1,140.7 L113.6,139.8 L114.1,138.5 L114.6,138.1 L115.1,139.6 L115.6,139.8 L116.1,138.2 L116.6,138.5 L117.1,139.9 L117.5,137.5 L117.6,138.2 L118.1,140.8 L118.6,142.2 L119.1,142.7 L119.6,144.1 L119.8,145.1 L120.1,145.1 L120.6,145.1 L121.1,149 L121.6,149.7 L122.1,150.2 L122.6,145.2 L123.1,143.2 L123.6,137.8 L124.1,136.3 L124.6,131.5 L125.1,130 L125.6,127.8 L126.1,132.2 L126.6,138.2 L127.1,142.3 L127.6,147.4 L127.9,150.1 L128.1,150.9 L128.6,151.3 L129.1,152.8 L129.5,153.6 L129.6,152.2 L130.1,147.8 L130.6,145.4 L131.1,142.4 L131.6,138.6 L132.1,134.9 L132.6,131.8 L133.1,128.6 L133.2,125.6 L133.6,129.2 L134.1,130.2 L134.6,131.5 L135.1,132.3 L135.6,134.2 L136.1,135.9 L136.6,136.1 L137.1,138.9 L137.2,138.8 L137.6,140.7 L138.1,141.6 L138.6,142.5 L139.1,144 L139.6,145.7 L140.1,146.8 L140.6,148.4 L141.1,148 L141.6,148.1 L142.1,148.9 L142.6,148.8 L143.1,149.6 L143.5,150.5 L143.6,149.3 L144.1,149 L144.6,149.6 L145.1,148.4 L145.6,148.2 L146.1,146.9 L146.6,146.5 L146.9,146.7 L147.1,146.9 L147.6,143.9 L148.1,140.3 L148.6,139.3 L149.1,137.3 L149.6,134.9 L149.7,133.3 L150.1,130.1 L150.6,126.6 L151.1,119.9 L151.6,115.8 L152.1,120.3 L152.6,125.1 L153.1,130.7 L153.4,134.7 L153.6,136.2 L154.1,138.6 L154.6,142.5 L155,145.1 L155.1,143.7 L155.6,141.9 L156.1,139.1 L156.6,135.6 L156.7,133.8 L157.1,123.5 L157.6,109.2 L158.1,94.2 L158.5,83.1 L158.6,84.7 L159.1,94.3 L159.6,104.4 L160.1,111.9 L160.4,117.2 L160.6,121.9 L161.1,130.1 L161.6,137.6 L162,145 L162.1,145.4 L162.6,146.8 L163.1,148.6 L163.6,150.3 L164.1,150.8 L164.3,151.5 L164.6,150.1 L165.1,149.6 L165.6,148.3 L166.1,145.8 L166.6,143.9 L167.1,144.1 L167.3,142.8 L167.6,142 L168.1,141.9 L168.6,143.1 L169.1,144.4 L169.6,143.8 L170.1,144.4 L170.6,144.8 L171.1,145.9 L171.6,146.9 L172.1,145.8 L172.6,146.9 L173.1,147.4 L173.6,147.7 L174.1,148.3 L174.6,150.5 L175.1,151.1 L175.6,152.5 L175.9,153.6 L176.1,150.4 L176.6,145.9 L177.1,140.3 L177.6,135.5 L178.1,130.7 L178.2,129.4 L178.6,119.9 L179.1,110.8 L179.6,99.2 L179.8,94.1 L180.1,98.2 L180.6,107.4 L181.1,115.7 L181.6,123.9 L181.7,125.5 L182.1,129.8 L182.6,136.8 L183.1,142 L183.5,148.1 L183.6,148.4 L184.1,146.2 L184.6,145.2 L185.1,144.1 L185.6,142.9 L186.1,142.4 L186.3,140.4 L186.6,139.7 L187.1,134.7 L187.6,131.5 L188.1,127.9 L188.6,124.8 L189.1,129.4 L189.6,134.9 L190.1,139.5 L190.5,144.7 L190.6,143.9 L191.1,145.4 L191.6,147.6 L192.1,149.5 L192.6,148.7 L193.1,147.8 L193.6,147.7 L194.1,147.9 L194.6,148 L195.1,147.5 L195.6,146.8 L196.1,143.4 L196.6,139 L197.1,135.7 L197.6,132.6 L197.9,130.1 L198.1,125 L198.6,110.8 L199.1,98 L199.6,84.1 L199.7,82.6 L200.1,88.4 L200.6,96 L201.1,104.7 L201.6,113.4 L202.1,121.9 L202.6,132.3 L203,141.6 L203.1,141.4 L203.6,142.9 L204.1,143.5 L204.6,147 L205.1,148.2 L205.6,149.6 L206,149.6 L206.1,150.7 L206.6,151 L207.1,149.7 L207.6,149.6 L208.1,149.2 L208.6,150 L209.1,149.1 L209.4,148.9 L209.6,147.6 L210.1,146.8 L210.6,148.9 L211.1,149.1 L211.6,147.9 L212.1,148 L212.6,145.5 L213.1,145.5 L213.6,145.4 L214.1,144.4 L214.6,145.9 L215.1,142.6 L215.6,143 L216.1,142.9 L216.6,142.2 L217.1,143.4 L217.5,140.3 L217.6,143.5 L218.1,143.8 L218.6,143.7 L219.1,145.2 L219.6,146.7 L220.1,145 L220.6,146 L221,146.1 L221.1,146.3 L221.6,145.5 L222.1,145.5 L222.6,147.1 L223.1,146.3 L223.6,148 L224.1,148.1 L224.6,147.1 L225.1,148.2 L225.6,148.2 L226.1,147.9 L226.6,149 L227.1,147.9 L227.6,148 L228.1,145.7 L228.6,148.1 L229.1,146 L229.6,147 L230.1,148.9 L230.6,148.9 L231.1,146.7 L231.6,145.7" fill="none" stroke="#e01c1f" stroke-width="1.9" stroke-linejoin="round"/>
<path d="M55,23.9H232.4V166.3H55Z" fill="none" stroke="#444" stroke-width="1.3" stroke-linejoin="round"/><path d="M57.8,166.3V169.8M114.8,166.3V169.8M171.9,166.3V169.8M228.9,166.3V169.8M86.3,166.3V168.6M143.4,166.3V168.6M200.4,166.3V168.6" stroke="#4a4a4a" stroke-width="1.3"/>
<rect x="56.5" y="25.9" width="73.7" height="21.9" fill="#fff" stroke="#555" stroke-width="1.3" rx="1"/>
<text x="58.4" y="42.2" font-size="16" fill="#111" stroke="#111" stroke-width="0.3">MCF-10A</text>
<text x="24.1" y="24.7" font-size="18.5" fill="#111" stroke="#111" stroke-width="0.3">A</text>
<text x="220.7" y="62.7" font-size="15" fill="#111" stroke="#111" stroke-width="0.55" text-anchor="end">200</text>
<path d="M219.6,52.6H227.2M223.4,52.6V64.4M219.6,64.4H227.2" stroke="#111" stroke-width="1.7" fill="none"/>
<text x="57.8" y="180.6" font-size="12" fill="#111" stroke="#111" stroke-width="0.3" text-anchor="middle">650</text>
<text x="114.8" y="180.6" font-size="12" fill="#111" stroke="#111" stroke-width="0.3" text-anchor="middle">1050</text>
<text x="171.9" y="180.6" font-size="12" fill="#111" stroke="#111" stroke-width="0.3" text-anchor="middle">1450</text>
<text x="228.9" y="180.6" font-size="12" fill="#111" stroke="#111" stroke-width="0.3" text-anchor="middle">1850</text>
<text x="76.9" y="195.7" font-size="16" fill="#111" stroke="#111" stroke-width="0.3">Raman shift (cm<tspan font-size="11" dx="1.4" dy="-7">-1</tspan><tspan dx="1.8" dy="7">)</tspan></text>
<text transform="translate(45.7,146) rotate(-90)" font-size="16" fill="#111" stroke="#111" stroke-width="0.3">Intensity (a.u.)</text>
<path d="M281.8,111.2 L282.3,113.2 L282.8,117 L283.3,119.3 L283.4,119.9 L283.8,121.9 L284.3,124.7 L284.8,127.4 L285.3,130.1 L285.8,132.4 L286.3,133.5 L286.8,136 L287.3,137.5 L287.8,139.6 L288.3,141.7 L288.8,143.1 L289.3,144.2 L289.4,145.4 L289.8,144.2 L290.3,142.4 L290.8,141.2 L291.3,139.9 L291.8,138.2 L292.3,135.9 L292.8,135.1 L293.3,133.5 L293.8,131 L294.3,130.1 L294.8,128.5 L295.3,126.7 L295.4,125.5 L295.8,126.1 L296.3,126.8 L296.8,128.4 L297.3,128.4 L297.8,130.2 L298.3,132.4 L298.8,135.1 L299.3,137.9 L299.8,140 L300.2,142.4 L300.3,141.6 L300.8,135.5 L301.3,129.5 L301.8,124.5 L302.3,118.1 L302.8,111.8 L303.3,100 L303.8,89.5 L304.3,80.6 L304.6,71.7 L304.8,72.1 L305.3,63.3 L305.6,59.4 L305.8,57.4 L306.3,54.6 L306.8,54.6 L307.2,57.8 L307.3,57.3 L307.8,57.5 L308.3,61.9 L308.8,62.8 L309.2,65.4 L309.3,65.9 L309.8,69.7 L310.3,73.5 L310.8,77.4 L311.2,79.1 L311.3,80.2 L311.8,83.8 L312.3,88.5 L312.8,92 L313.3,95.2 L313.4,95.6 L313.8,102.2 L314.3,109.2 L314.8,117.7 L315.3,125.1 L315.8,131.8 L316.3,136.4 L316.8,142.1 L317.3,147.1 L317.5,149 L317.8,145.7 L318.3,140.9 L318.8,135.8 L319.3,130.2 L319.4,130.2 L319.8,124.2 L320.3,118.1 L320.8,111.4 L321.3,105 L321.8,98.3 L322.3,95.3 L322.8,89.7 L323.3,86.3 L323.5,85.6 L323.8,86.4 L324.3,91.6 L324.8,94.6 L325.3,100 L325.4,100.5 L325.8,106.4 L326.3,114.1 L326.8,120.5 L327.3,127.6 L327.8,134.3 L328.3,137 L328.8,140.7 L329.3,143.9 L329.8,146.8 L330.2,149.9 L330.3,149.9 L330.8,145.3 L331.3,141.6 L331.8,137.7 L332.3,133.5 L332.6,131.6 L332.8,129.8 L333.3,126.4 L333.8,122.4 L334.3,119.5 L334.8,116.1 L335.3,111.6 L335.7,107.7 L335.8,107.2 L336.3,104.8 L336.8,102.8 L337.3,100.6 L337.8,98.8 L338.1,96.3 L338.3,97.1 L338.8,98.6 L339.3,102.3 L339.8,105 L340,106.3 L340.3,108.2 L340.8,108.9 L341.3,109.3 L341.8,110.4 L341.9,110.1 L342.3,110 L342.8,108.2 L343.3,106.4 L343.8,105.1 L344.3,105.3 L344.8,105.8 L345.3,108.8 L345.8,111.7 L346.3,115.9 L346.7,115.6 L346.8,117 L347.3,121.2 L347.8,122.7 L348.3,126.8 L348.4,127.7 L348.8,121.9 L349.3,117.1 L349.8,113.1 L350.3,109.5 L350.8,103.8 L351.3,99.5 L351.8,93.5 L352.3,89.1 L352.8,80.4 L353,77.7 L353.3,82.2 L353.8,86.6 L354.3,95.2 L354.6,94.4 L354.8,98 L355.3,104.9 L355.8,107.3 L356.3,111.8 L356.8,112.1 L357.3,114.4 L357.8,118.9 L358.1,117.6 L358.3,121.5 L358.8,123.2 L359.3,125.3 L359.8,131.5 L360.3,131.3 L360.8,134.1 L361.3,137.2 L361.6,134.9 L361.8,134.6 L362.3,134.2 L362.8,132.1 L363.3,129 L363.8,126.4 L364.3,124.6 L364.8,125.3 L365.3,126.5 L365.8,125.5 L365.9,124.3 L366.3,122.2 L366.8,125.2 L367.3,123.8 L367.6,126.4 L367.8,125.2 L368.3,124 L368.8,124.2 L369.3,127.3 L369.8,126.9 L370,126.7 L370.3,126.8 L370.8,126.7 L371.3,125.2 L371.8,128.5 L372.3,128.3 L372.8,127.5 L373.3,126.6 L373.6,126.8 L373.8,129.4 L374.3,127.1 L374.8,126.1 L375.3,126.5 L375.8,124.2 L376,127.2 L376.3,125.2 L376.8,124.4 L377.3,123 L377.8,127.1 L378.3,123.8 L378.8,125.3 L379.3,123.4 L379.6,124.2 L379.8,122.8 L380.3,124.8 L380.8,121 L381.3,122.5 L381.8,120 L382.3,121.4 L382.8,121.1 L383.3,116.1 L383.8,110.2 L384.3,104.4 L384.8,102.2 L385,101.4 L385.3,94.2 L385.8,89.3 L386.1,87.5 L386.3,88 L386.8,94.2 L387.3,97.3 L387.8,102 L388,104.3 L388.3,106.3 L388.8,108 L389.3,108.2 L389.8,110.5 L390.3,113.5 L390.8,114.1 L391.3,118.2 L391.6,117.7 L391.8,118 L392.3,120.9 L392.8,119.6 L393.3,120.8 L393.8,122.6 L394.3,123.4 L394.8,124.1 L395.2,125.1 L395.3,125.6 L395.8,122.1 L396.3,118.2 L396.8,116.4 L397.3,114.4 L397.6,110.5 L397.8,110.6 L398.3,108 L398.8,102.9 L399.3,101.3 L399.8,96.3 L400,94.8 L400.3,100 L400.8,104.9 L401.3,109.3 L401.8,116.1 L401.9,115 L402.3,119.2 L402.8,125.8 L403.3,129 L403.8,133.6 L404.3,138.7 L404.8,135.7 L405.3,134.4 L405.8,132.4 L406.3,130.6 L406.7,128.4 L406.8,130.2 L407.3,127.8 L407.8,128.9 L408.3,128.2 L408.8,125.9 L409.3,127.4 L409.6,125.8 L409.8,127 L410.3,124.4 L410.8,124.3 L411.3,126.2 L411.8,124.2 L412.3,124 L412.8,126.1 L413.2,125.4 L413.3,126 L413.8,125.7 L414.3,124.6 L414.8,124.5 L415.3,124.5 L415.8,125.1 L416.3,123.9 L416.8,122.3 L417.3,122.6 L417.8,119.8 L418.3,119.5 L418.8,116 L419.3,114.8 L419.8,111.6 L420.3,112.8 L420.4,110.1 L420.8,108.3 L421.3,105.1 L421.8,101.7 L422.3,95.3 L422.8,95 L423.3,90.3 L423.8,91.5 L424.3,83.4 L424.8,82.3 L425.3,81.2 L425.8,80.7 L425.9,81.4 L426.3,83 L426.8,84.4 L427.3,88 L427.8,89.2 L428.3,94.4 L428.8,97.3 L429.3,104 L429.8,109 L430.3,113.5 L430.8,117.6 L431.2,119.5 L431.3,120.2 L431.8,122.6 L432.3,125.5 L432.8,127.4 L433.3,128.8 L433.8,129.7 L434.3,132.8 L434.8,133.4 L435.3,134.1 L435.8,133 L436.3,133.5 L436.8,135.6 L437.2,135.1 L437.3,132.7 L437.8,130.6 L438.3,130.6 L438.8,127.3 L439.3,128.6 L439.8,125.9 L440.3,123.1 L440.8,125 L441.3,120.4 L441.8,116.7 L442.3,118.5 L442.8,117.9 L443.3,112.3 L443.8,110.3 L444.3,111.1 L444.4,110.2 L444.8,110.8 L445.3,113.3 L445.8,110 L446.3,114.3 L446.8,111.7 L447.3,113.5 L447.8,118 L448,114.3 L448.3,118.4 L448.8,115.6 L449.3,119.7 L449.8,117.1 L450.3,118.4 L450.8,118.5 L451.3,117.7 L451.6,118.1 L451.8,122.2 L452.3,121.9 L452.8,117.8 L453.3,121.2 L453.8,119.5 L454.3,121.3 L454.8,120.5 L455.3,124.5 L455.8,122.6 L456.3,121.6 L456.4,123.4 L456.8,121.3 L457.3,120 L457.8,119.4 L458.3,121.7 L458.3,136.4 L457.8,137.8 L457.3,139.2 L456.8,139.5 L456.4,139.4 L456.3,141.4 L455.8,138.2 L455.3,140.7 L454.8,140.5 L454.3,139 L453.8,140.1 L453.3,138.1 L452.8,137 L452.3,139.3 L451.8,136.9 L451.6,139.3 L451.3,135.5 L450.8,140 L450.3,137.1 L449.8,137.9 L449.3,136.9 L448.8,138.6 L448.3,136.8 L448,137.5 L447.8,136.8 L447.3,136 L446.8,133.7 L446.3,133.9 L445.8,133.4 L445.3,127.8 L444.8,130.7 L444.4,127.4 L444.3,130.7 L443.8,128.1 L443.3,134 L442.8,133 L442.3,135.4 L441.8,134.9 L441.3,136.6 L440.8,142.9 L440.3,140.9 L439.8,144.8 L439.3,146 L438.8,144.8 L438.3,145 L437.8,145.7 L437.3,146.4 L437.2,149.3 L436.8,145.8 L436.3,148.6 L435.8,145.8 L435.3,144.5 L434.8,143.1 L434.3,143.2 L433.8,141.2 L433.3,138.3 L432.8,135.9 L432.3,133.8 L431.8,129.8 L431.3,128.1 L431.2,128.6 L430.8,124.6 L430.3,121.7 L429.8,116.5 L429.3,112.7 L428.8,108.1 L428.3,106.1 L427.8,102.9 L427.3,102.1 L426.8,98.8 L426.3,98.4 L425.9,94.4 L425.8,95.2 L425.3,97.6 L424.8,98.8 L424.3,102.4 L423.8,103.2 L423.3,105 L422.8,107.4 L422.3,112.1 L421.8,114.2 L421.3,117.4 L420.8,120.5 L420.4,122.3 L420.3,122.5 L419.8,124.9 L419.3,127.2 L418.8,129.3 L418.3,131.3 L417.8,131.1 L417.3,134.3 L416.8,136.8 L416.3,136.8 L415.8,135.2 L415.3,136.2 L414.8,137.4 L414.3,135.6 L413.8,134.6 L413.3,136.2 L413.2,134.9 L412.8,135.6 L412.3,136.2 L411.8,136.8 L411.3,137.9 L410.8,138.1 L410.3,137.3 L409.8,137.8 L409.6,136.9 L409.3,139.5 L408.8,138 L408.3,139.3 L407.8,140.2 L407.3,139.8 L406.8,141.6 L406.7,138.7 L406.3,142.3 L405.8,143.1 L405.3,144.9 L404.8,149.5 L404.3,151.6 L403.8,147 L403.3,140 L402.8,134.4 L402.3,131.8 L401.9,129.4 L401.8,126.9 L401.3,122.6 L400.8,116.8 L400.3,110.5 L400,109.1 L399.8,110.9 L399.3,113.6 L398.8,113.9 L398.3,118 L397.8,121.6 L397.6,123.3 L397.3,123.7 L396.8,125.2 L396.3,129.1 L395.8,130.9 L395.3,132.3 L395.2,134 L394.8,132.7 L394.3,131.6 L393.8,131.8 L393.3,132 L392.8,129 L392.3,129.1 L391.8,128.8 L391.6,127.7 L391.3,127 L390.8,125.7 L390.3,123.8 L389.8,121 L389.3,119.5 L388.8,118.4 L388.3,118.8 L388,117.5 L387.8,116.4 L387.3,112.1 L386.8,109.5 L386.3,104.6 L386.1,104.7 L385.8,108.2 L385.3,113.2 L385,116.3 L384.8,120 L384.3,121.9 L383.8,127.4 L383.3,128.8 L382.8,133.3 L382.3,135.7 L381.8,136 L381.3,139.9 L380.8,137.5 L380.3,137.9 L379.8,140.4 L379.6,140.8 L379.3,138.7 L378.8,139 L378.3,140.2 L377.8,139.7 L377.3,141.7 L376.8,142.6 L376.3,139.1 L376,141.1 L375.8,143.4 L375.3,140.4 L374.8,145.3 L374.3,142.1 L373.8,144.3 L373.6,141.9 L373.3,141.9 L372.8,141.8 L372.3,144.7 L371.8,145.1 L371.3,140.8 L370.8,144.4 L370.3,140.8 L370,142.6 L369.8,141.7 L369.3,138.9 L368.8,140.6 L368.3,139.1 L367.8,143 L367.6,138 L367.3,140.8 L366.8,141.6 L366.3,139.8 L365.9,140.7 L365.8,139.4 L365.3,140 L364.8,140.5 L364.3,142.4 L363.8,142.3 L363.3,142.8 L362.8,148 L362.3,151.4 L361.8,152.4 L361.6,154 L361.3,152.9 L360.8,148.5 L360.3,148 L359.8,145.4 L359.3,141.2 L358.8,138.1 L358.3,137.3 L358.1,131.4 L357.8,133.4 L357.3,129 L356.8,127.5 L356.3,125.1 L355.8,123.6 L355.3,116.9 L354.8,115.3 L354.6,112.9 L354.3,110.4 L353.8,104.1 L353.3,98.4 L353,98.4 L352.8,98.3 L352.3,103.9 L351.8,108.3 L351.3,111 L350.8,114.8 L350.3,120.7 L349.8,123.6 L349.3,129.6 L348.8,133.2 L348.4,137 L348.3,138 L347.8,134.8 L347.3,130.7 L346.8,127.8 L346.7,126.3 L346.3,124.7 L345.8,122.3 L345.3,117.9 L344.8,116.7 L344.3,112.2 L343.8,113.2 L343.3,115.4 L342.8,115.4 L342.3,117.2 L341.9,117.9 L341.8,118 L341.3,116.8 L340.8,114.7 L340.3,113.5 L340,113.1 L339.8,112.2 L339.3,109.4 L338.8,106.5 L338.3,104.4 L338.1,103.4 L337.8,104.3 L337.3,106.8 L336.8,108.8 L336.3,112.1 L335.8,114.1 L335.7,114.7 L335.3,117.5 L334.8,121.5 L334.3,125.1 L333.8,128.6 L333.3,131.2 L332.8,135.6 L332.6,136.6 L332.3,138.1 L331.8,142.6 L331.3,146.6 L330.8,149.3 L330.3,153.8 L330.2,154.4 L329.8,152 L329.3,148 L328.8,144.9 L328.3,142.4 L327.8,138.6 L327.3,132.3 L326.8,126.4 L326.3,119.7 L325.8,112.3 L325.4,107.7 L325.3,106.7 L324.8,103.1 L324.3,98.9 L323.8,95.7 L323.5,92.8 L323.3,95.1 L322.8,98.1 L322.3,101.2 L321.8,104.9 L321.3,111.3 L320.8,117.6 L320.3,122.6 L319.8,128.8 L319.4,134.5 L319.3,135.4 L318.8,139.6 L318.3,145 L317.8,150.5 L317.5,153.6 L317.3,151.1 L316.8,146.6 L316.3,141.1 L315.8,135.8 L315.3,128.9 L314.8,121 L314.3,114.5 L313.8,105.9 L313.4,100.5 L313.3,99.5 L312.8,95.3 L312.3,92.3 L311.8,88.3 L311.3,85.5 L311.2,84.6 L310.8,81.5 L310.3,79 L309.8,75.7 L309.3,72.4 L309.2,72.5 L308.8,70.7 L308.3,69.8 L307.8,67.6 L307.3,66.4 L307.2,65.9 L306.8,66 L306.3,67.6 L305.8,67.5 L305.6,68 L305.3,72.3 L304.8,80 L304.6,82.6 L304.3,87.4 L303.8,97.2 L303.3,107.8 L302.8,117 L302.3,123.3 L301.8,129.1 L301.3,134.3 L300.8,140.8 L300.3,146.3 L300.2,147.5 L299.8,145.5 L299.3,142.3 L298.8,139.4 L298.3,137 L297.8,134.5 L297.3,133.8 L296.8,132.6 L296.3,132.1 L295.8,130.8 L295.4,130.4 L295.3,130.1 L294.8,132.9 L294.3,133.5 L293.8,135.5 L293.3,137.5 L292.8,139.5 L292.3,140.6 L291.8,141.7 L291.3,144 L290.8,144.8 L290.3,146.7 L289.8,147.8 L289.4,149.2 L289.3,148.9 L288.8,147.7 L288.3,145.1 L287.8,143.1 L287.3,142.5 L286.8,139.8 L286.3,138.6 L285.8,136.8 L285.3,133.5 L284.8,131.4 L284.3,128.8 L283.8,126.2 L283.4,124.1 L283.3,124.2 L282.8,120.5 L282.3,118.2 L281.8,115.7Z" fill="#cdcdcd"/><path d="M281.8,110.7V116M282.3,112.8V118.3M282.8,115.8V121.1M283.3,118.6V124.1M283.4,119.6V125.2M283.8,121.5V126.9M284.3,124.2V129.9M284.8,126.7V132.2M285.3,129.5V135.1M285.8,130.7V136.6M286.3,133.3V138.3M286.8,135.2V141.2M287.3,136.8V142M287.8,138.1V144.4M288.3,141.2V146M288.8,142.9V148.5M289.3,144.4V149.8M289.4,144.1V150.3M289.8,144V148.4M290.3,142.4V147.7M290.8,140.2V145.8M291.3,139.2V143.9M291.8,138V143.2M292.3,135.3V141.3M292.8,133.8V139.6M293.3,133V137.3M293.8,130.3V136.8M294.3,128.4V134.4M294.8,127.1V133.3M295.3,125.5V131.8M295.4,124.8V130.6M295.8,125.7V131.5M296.3,126.3V132.9M296.8,126.9V133.5M297.3,127.7V133.3M297.8,129.6V134.5M298.3,131.4V137.8M298.8,134V139.6M299.3,137V142.9M299.8,140.4V145.6M300.2,141.7V147.3M300.3,140.4V146.2M300.8,135.7V140.7M301.3,128.7V135.5M301.8,122.5V128.9M302.3,117.4V123.2M302.8,111.1V117.7M303.3,98.5V108.3M303.8,89.6V99M304.3,77.9V88M304.6,73.4V82.9M304.8,69.7V79.7M305.3,61V73.1M305.6,53.4V68.2M305.8,52.9V68.4M306.3,55.1V67.4M306.8,54.3V66.8M307.2,54V66.8M307.3,54.8V66.3M307.8,54.7V68.6M308.3,61.2V70M308.8,61.8V71M309.2,64.9V72.4M309.3,66.3V73.4M309.8,70V76.3M310.3,72.8V79.5M310.8,75.6V81.7M311.2,79.3V85M311.3,79.7V85.1M311.8,83.9V88.8M312.3,86.6V92.7M312.8,90.8V96.7M313.3,94.3V100.2M313.4,95.5V101.3M313.8,101.6V106.4M314.3,108.2V115.1M314.8,116.5V122.3M315.3,123.5V129.3M315.8,131.8V136.5M316.3,135.8V142.6M316.8,141.4V147.6M317.3,146.3V151.8M317.5,148.5V153.9M317.8,145.3V151.3M318.3,139.5V146M318.8,135.1V140.5M319.3,129.3V135.9M319.4,128.7V133.9M319.8,123.3V129.6M320.3,117.8V123.3M320.8,110.5V118.3M321.3,104.9V112.2M321.8,96.6V106.3M322.3,94.6V101.7M322.8,89.5V98.7M323.3,85.9V94.7M323.5,84.4V94.4M323.8,84.5V95.6M324.3,90.2V100.3M324.8,95.3V103.7M325.3,99.9V108M325.4,100.2V107.9M325.8,105.6V113M326.3,113.8V120.5M326.8,119.7V125.9M327.3,127.7V133.4M327.8,133.8V139.8M328.3,137.2V142M328.8,140.8V145.9M329.3,143.2V149.7M329.8,147.1V152.3M330.2,149.1V155.3M330.3,148.2V154.6M330.8,144.8V150.9M331.3,141.2V147.1M331.8,137.4V142.5M332.3,133.1V138.8M332.6,131.1V137.3M332.8,129.6V135.7M333.3,125.3V131.8M333.8,122.3V129M334.3,117.6V124.8M334.8,115.6V122.1M335.3,110.3V118.1M335.7,106.4V116.1M335.8,107.2V114.8M336.3,103.8V112.2M336.8,101.4V109.5M337.3,97.6V107.3M337.8,95V105.3M338.1,94.8V103M338.3,97.2V104.2M338.8,97.6V107.3M339.3,100.5V109.3M339.8,103.3V113.6M340,106.3V113.1M340.3,105V114.5M340.8,107.7V116.8M341.3,107.6V118.6M341.8,110.4V119.2M341.9,111V119.4M342.3,108V118.1M342.8,107.4V117.9M343.3,107.1V115.9M343.8,104.8V116.4M344.3,102.4V114.6M344.8,106.3V118.2M345.3,108.9V121M345.8,111.4V124.5M346.3,114.8V124.9M346.7,114.1V127.4M346.8,115.7V128.6M347.3,118.4V132.4M347.8,121.5V135M348.3,123.3V137M348.4,123.9V137.1M348.8,119.9V134.9M349.3,115.5V129.6M349.8,109.5V128.2M350.3,104.7V123.5M350.8,99.9V116.1M351.3,95.5V112.4M351.8,92V110M352.3,80.7V106.7M352.8,79.1V99.2M353,75.6V97M353.3,77.1V103.4M353.8,83.8V108.6M354.3,92.2V113.8M354.6,95V115.2M354.8,93.4V116.8M355.3,99V119.4M355.8,107.5V126.9M356.3,107.5V130.2M356.8,111.6V129.4M357.3,115.5V134.6M357.8,113.3V133.4M358.1,115.5V135.9M358.3,117.6V137.3M358.8,121V138.8M359.3,125.9V143.5M359.8,128.5V148.1M360.3,127.5V153M360.8,130.6V151.6M361.3,133V154M361.6,135V157.2M361.8,132.1V155.4M362.3,131.6V151.3M362.8,129.3V150.5M363.3,125.1V148.7M363.8,124.9V144.9M364.3,122.8V145.7M364.8,121V143.3M365.3,123.8V144.9M365.8,123.6V140.1M365.9,120.5V142.9M366.3,122.5V139.5M366.8,121.4V144M367.3,119.6V141.7M367.6,123.1V144.2M367.8,120.9V141.9M368.3,124.4V142M368.8,124V143.7M369.3,124.5V141.5M369.8,121.1V144.7M370,125.7V145.4M370.3,125.1V143.8M370.8,123.7V146M371.3,122V143.7M371.8,126.8V143.7M372.3,125.8V144.1M372.8,125.6V145.7M373.3,123.4V148.9M373.6,126.1V145.8M373.8,123.8V147.5M374.3,123.2V145.5M374.8,126.9V144.3M375.3,125.5V145.6M375.8,123.2V142.2M376,122V145.2M376.3,123.7V143.8M376.8,123.3V145M377.3,123V146M377.8,122.2V142.8M378.3,121.3V143.9M378.8,124V144.2M379.3,120.4V142.9M379.6,121.8V140.6M379.8,124V141.3M380.3,119.1V139.6M380.8,121.4V141.8M381.3,118.1V142.4M381.8,118.6V136.6M382.3,118.7V140.2M382.8,118.3V134.6M383.3,111V135.1M383.8,107.4V127.5M384.3,102.7V123.3M384.8,100.9V118.9M385,99.4V121.3M385.3,92.2V116.6M385.8,87.1V108.4M386.1,87V104.8M386.3,83.8V107.3M386.8,92.9V109.6M387.3,95.2V112.4M387.8,101.3V117.1M388,99.6V117.3M388.3,103.1V120.6M388.8,105.1V121.6M389.3,106.8V123.9M389.8,111.3V124.6M390.3,113.2V124.7M390.8,115.2V126.5M391.3,114.5V128.1M391.6,118.4V129.4M391.8,116.4V130.6M392.3,118.1V131.7M392.8,119.8V132.8M393.3,120.2V131.9M393.8,121.8V134.6M394.3,121.3V133.9M394.8,123V134.7M395.2,125.1V133.9M395.3,122.8V135.1M395.8,119.4V132.5M396.3,117.1V130M396.8,115.3V127.3M397.3,110.5V126.4M397.6,108.8V123.9M397.8,109.8V121.2M398.3,103.3V118.3M398.8,102V117.7M399.3,99.2V114.8M399.8,95.9V111.9M400,92.5V109.1M400.3,97.4V112.4M400.8,101.8V119.5M401.3,107.5V123M401.8,113.7V127.2M401.9,113.7V129.4M402.3,116.8V133.2M402.8,121.4V137.5M403.3,127.6V141.2M403.8,131.2V145.2M404.3,137.8V150.9M404.8,133.4V150.2M405.3,133.3V149.4M405.8,129.4V143.9M406.3,129.5V144.5M406.7,125.7V143.1M406.8,125.5V140.5M407.3,128.3V141.3M407.8,127.7V141.8M408.3,124.2V140.4M408.8,125V139.8M409.3,126.1V138.3M409.6,123.8V141.1M409.8,125V138.1M410.3,123.2V138.4M410.8,123.2V139.7M411.3,124.7V138.9M411.8,124.3V137.3M412.3,124.7V138.8M412.8,122.5V136.8M413.2,124.5V136.3M413.3,121.6V136.6M413.8,123.6V136.3M414.3,123V138.2M414.8,122.8V138.2M415.3,123.7V138.9M415.8,121.6V136M416.3,122.5V135.2M416.8,121V138.2M417.3,120.4V134.6M417.8,117.6V132.9M418.3,118.7V132.3M418.8,115.5V131.8M419.3,113.2V126.9M419.8,110.1V128.3M420.3,110.8V124.2M420.4,108.9V125.3M420.8,105.1V122.5M421.3,100.6V119.8M421.8,101.1V117.4M422.3,93V113.3M422.8,89.2V110.7M423.3,91.1V108M423.8,88V104.8M424.3,80.9V103.7M424.8,82.5V100.5M425.3,79.4V98.3M425.8,78.5V98.5M425.9,78.4V97.1M426.3,76.8V98.1M426.8,83.9V100.2M427.3,86.2V103.7M427.8,91.1V103.3M428.3,90.5V104.8M428.8,97V110.7M429.3,103.3V113.7M429.8,107.2V118.3M430.3,110.8V123M430.8,116.8V125.7M431.2,118.6V130.5M431.3,120.2V128.8M431.8,122.9V132.5M432.3,124.8V133.3M432.8,126.3V136.2M433.3,126.7V137.8M433.8,128.8V142.6M434.3,130.3V143.6M434.8,131.1V146.2M435.3,132.2V148.2M435.8,133.5V146.7M436.3,130.1V147.8M436.8,134.1V148.2M437.2,130.3V148.9M437.3,131.8V151.2M437.8,132.4V148.2M438.3,127.1V147.2M438.8,127.3V147.7M439.3,123V145.5M439.8,124.8V142.9M440.3,122.5V145.3M440.8,117.1V143M441.3,120V142M441.8,118.4V137.6M442.3,116.3V140.4M442.8,111.3V133.6M443.3,107.3V134M443.8,110.5V134M444.3,106.3V132M444.4,106.4V129.4M444.8,110.1V132.7M445.3,107.6V132.4M445.8,107.5V133.8M446.3,106.3V136.1M446.8,107.1V134.3M447.3,110.3V139.1M447.8,110.3V137.2M448,111V138.7M448.3,114.4V139.7M448.8,116.3V136.5M449.3,116.1V137.1M449.8,112V137.9M450.3,111.9V137.2M450.8,118.4V139.6M451.3,115.4V141.1M451.6,119V140.8M451.8,118.8V139.3M452.3,118.8V139.7M452.8,115.4V142.9M453.3,120.2V142.5M453.8,120.2V139M454.3,121.5V143.4M454.8,118.3V142.4M455.3,121.8V144.1M455.8,120V143.1M456.3,118.5V141.8M456.4,121.5V140.8M456.8,120.8V144.2M457.3,118.4V140.3M457.8,119.7V141.7M458.3,115.7V139.6" stroke="#c2c2c2" stroke-width="0.7" fill="none"/><path d="M281.8,113.3 L282.3,116.6 L282.8,118.7 L283.3,121.2 L283.4,121.8 L283.8,124 L284.3,126.9 L284.8,127.1 L285.3,130.3 L285.8,134.3 L286.3,136.6 L286.8,137.4 L287.3,139.8 L287.8,140.7 L288.3,142.3 L288.8,145.4 L289.3,147 L289.4,147.1 L289.8,145.2 L290.3,144.8 L290.8,143.2 L291.3,141.6 L291.8,140.2 L292.3,138.3 L292.8,137.3 L293.3,135.6 L293.8,135 L294.3,133 L294.8,130.2 L295.3,127.6 L295.4,128.7 L295.8,128.4 L296.3,130.8 L296.8,129.2 L297.3,130.8 L297.8,133 L298.3,134.6 L298.8,137.9 L299.3,140.6 L299.8,142.5 L300.2,145.7 L300.3,143.2 L300.8,137.9 L301.3,134 L301.8,126.4 L302.3,121.1 L302.8,114.2 L303.3,106.3 L303.8,94.9 L304.3,85.3 L304.6,79.6 L304.8,76.5 L305.3,69.1 L305.6,65.8 L305.8,65.3 L306.3,64.8 L306.8,63.4 L307.2,62.8 L307.3,63.6 L307.8,65.5 L308.3,66.4 L308.8,68.7 L309.2,69.8 L309.3,71.4 L309.8,74.1 L310.3,77 L310.8,80.4 L311.2,81.5 L311.3,83.8 L311.8,86.6 L312.3,89.7 L312.8,94.1 L313.3,96.6 L313.4,99.6 L313.8,104.4 L314.3,110.6 L314.8,118.3 L315.3,126.3 L315.8,133.8 L316.3,139.5 L316.8,144.8 L317.3,149.8 L317.5,151.4 L317.8,147.3 L318.3,143.8 L318.8,138.8 L319.3,131.3 L319.4,131.4 L319.8,126.7 L320.3,120.4 L320.8,115.8 L321.3,109.4 L321.8,103.1 L322.3,98.5 L322.8,94.4 L323.3,91.7 L323.5,90.4 L323.8,92.6 L324.3,95.4 L324.8,99.7 L325.3,104.3 L325.4,105.7 L325.8,110.2 L326.3,116.9 L326.8,123.5 L327.3,130 L327.8,137.5 L328.3,139.2 L328.8,143.3 L329.3,145.3 L329.8,150.5 L330.2,152.8 L330.3,152.2 L330.8,147.8 L331.3,143.8 L331.8,139.2 L332.3,136.7 L332.6,135.3 L332.8,130.6 L333.3,130.7 L333.8,125.2 L334.3,122.7 L334.8,118.2 L335.3,115.3 L335.7,113.2 L335.8,112 L336.3,111 L336.8,107.1 L337.3,105.1 L337.8,101.6 L338.1,100.2 L338.3,101.3 L338.8,104.5 L339.3,108 L339.8,109.2 L340,109.2 L340.3,110.5 L340.8,111.2 L341.3,113.9 L341.8,114.8 L341.9,114.2 L342.3,113.7 L342.8,113.5 L343.3,111.9 L343.8,109.8 L344.3,109.6 L344.8,112.1 L345.3,114.1 L345.8,117.4 L346.3,121.5 L346.7,121.3 L346.8,123.6 L347.3,125.5 L347.8,128.9 L348.3,131.5 L348.4,132 L348.8,128.1 L349.3,123.7 L349.8,119.7 L350.3,115.1 L350.8,109.1 L351.3,106 L351.8,102 L352.3,97.1 L352.8,92 L353,88.6 L353.3,93.5 L353.8,98.5 L354.3,104.1 L354.6,105.3 L354.8,107.3 L355.3,110.9 L355.8,115 L356.3,117.7 L356.8,120.4 L357.3,122.2 L357.8,124 L358.1,126.6 L358.3,126.3 L358.8,130.1 L359.3,134.9 L359.8,137.2 L360.3,140.3 L360.8,141.5 L361.3,142.4 L361.6,143.4 L361.8,143.1 L362.3,140.5 L362.8,138.3 L363.3,135.3 L363.8,135.3 L364.3,133.3 L364.8,132.4 L365.3,131.6 L365.8,129.8 L365.9,130.3 L366.3,130.7 L366.8,130.1 L367.3,130.2 L367.6,132.8 L367.8,131.7 L368.3,132 L368.8,131.9 L369.3,133.9 L369.8,132.7 L370,131.6 L370.3,133.6 L370.8,132.8 L371.3,134.2 L371.8,134.1 L372.3,135.5 L372.8,135.2 L373.3,134.9 L373.6,136.5 L373.8,137.3 L374.3,134.3 L374.8,135 L375.3,134 L375.8,133.5 L376,132 L376.3,132.1 L376.8,133.8 L377.3,132.7 L377.8,132 L378.3,133.6 L378.8,133 L379.3,132.5 L379.6,131 L379.8,131.5 L380.3,131.9 L380.8,128.4 L381.3,128 L381.8,127.9 L382.3,128.5 L382.8,127.2 L383.3,123.6 L383.8,119.5 L384.3,115.6 L384.8,112.7 L385,113 L385.3,107 L385.8,101.6 L386.1,96.7 L386.3,99.7 L386.8,101.9 L387.3,105.5 L387.8,108.5 L388,109.6 L388.3,110.9 L388.8,112.4 L389.3,114 L389.8,118.3 L390.3,119 L390.8,121.3 L391.3,122.7 L391.6,122.3 L391.8,123.8 L392.3,123.9 L392.8,124.8 L393.3,126.2 L393.8,127.2 L394.3,128 L394.8,128.8 L395.2,129.2 L395.3,128.9 L395.8,127.4 L396.3,125.6 L396.8,122.3 L397.3,118.7 L397.6,117.7 L397.8,117 L398.3,114 L398.8,111.2 L399.3,108.2 L399.8,104.5 L400,102.8 L400.3,104.8 L400.8,111.9 L401.3,116.6 L401.8,120.5 L401.9,122.2 L402.3,125.5 L402.8,130 L403.3,136.2 L403.8,139 L404.3,145.7 L404.8,141.7 L405.3,139.2 L405.8,137.9 L406.3,137.7 L406.7,134.1 L406.8,134.5 L407.3,131.9 L407.8,133.8 L408.3,131.8 L408.8,132.4 L409.3,133.1 L409.6,131.6 L409.8,132.3 L410.3,131.4 L410.8,131.1 L411.3,131.5 L411.8,131.9 L412.3,131 L412.8,130.7 L413.2,129.8 L413.3,129.2 L413.8,130.5 L414.3,130.1 L414.8,130.3 L415.3,130.7 L415.8,130.4 L416.3,128.9 L416.8,129.6 L417.3,128 L417.8,125.9 L418.3,122.6 L418.8,122.1 L419.3,121 L419.8,120 L420.3,117.5 L420.4,116.3 L420.8,116.1 L421.3,112 L421.8,108.6 L422.3,106.4 L422.8,103.5 L423.3,101 L423.8,98.6 L424.3,96.7 L424.8,95.9 L425.3,93.2 L425.8,91.8 L425.9,89.5 L426.3,92.2 L426.8,94.3 L427.3,96.2 L427.8,97 L428.3,100.2 L428.8,106 L429.3,109.1 L429.8,112.6 L430.3,116.6 L430.8,120.2 L431.2,124.8 L431.3,124.4 L431.8,126.7 L432.3,129.7 L432.8,131.7 L433.3,133.5 L433.8,133.6 L434.3,136.5 L434.8,139.9 L435.3,138.5 L435.8,141 L436.3,140.4 L436.8,141.7 L437.2,141 L437.3,140.2 L437.8,139 L438.3,139.6 L438.8,136.8 L439.3,134.8 L439.8,135.1 L440.3,131.9 L440.8,131.6 L441.3,130.4 L441.8,128.7 L442.3,127.1 L442.8,125 L443.3,121.5 L443.8,122 L444.3,120.1 L444.4,119.6 L444.8,121 L445.3,122.2 L445.8,122.7 L446.3,124.8 L446.8,126.3 L447.3,125.8 L447.8,126.3 L448,125.9 L448.3,127.6 L448.8,126.1 L449.3,129.2 L449.8,128.9 L450.3,128.1 L450.8,129.4 L451.3,128.5 L451.6,128.5 L451.8,130.1 L452.3,128.9 L452.8,130.2 L453.3,130.1 L453.8,131.7 L454.3,131 L454.8,132.2 L455.3,131.9 L455.8,130.8 L456.3,130.8 L456.4,130.1 L456.8,131.2 L457.3,128.2 L457.8,129 L458.3,127" fill="none" stroke="#c8c8c8" stroke-width="5.0" stroke-linejoin="round"/><path d="M281.8,112.3 L282.3,116.7 L282.8,117.7 L283.3,120.9 L283.4,121.6 L283.8,124.5 L284.3,124.9 L284.8,129.3 L285.3,131.5 L285.8,132.9 L286.3,134.8 L286.8,139.3 L287.3,140.5 L287.8,142 L288.3,142.3 L288.8,144.7 L289.3,145.4 L289.4,145.2 L289.8,145.6 L290.3,143.9 L290.8,141.6 L291.3,140.2 L291.8,140.6 L292.3,137.9 L292.8,134.9 L293.3,137.6 L293.8,131.4 L294.3,132 L294.8,128.9 L295.3,129.3 L295.4,128.2 L295.8,129.9 L296.3,129.4 L296.8,129.3 L297.3,132.7 L297.8,131.6 L298.3,134.2 L298.8,137 L299.3,139.1 L299.8,143.1 L300.2,146.9 L300.3,145.6 L300.8,138.3 L301.3,133 L301.8,127.3 L302.3,119.9 L302.8,116.7 L303.3,105.5 L303.8,93.3 L304.3,86.5 L304.6,78.8 L304.8,77.5 L305.3,70.9 L305.6,65.5 L305.8,65.9 L306.3,66.4 L306.8,62.4 L307.2,61.1 L307.3,63.6 L307.8,65.1 L308.3,69.5 L308.8,69.8 L309.2,70.5 L309.3,70.4 L309.8,71.2 L310.3,74.9 L310.8,79.1 L311.2,82.1 L311.3,82.1 L311.8,86.4 L312.3,90.8 L312.8,92.8 L313.3,96.8 L313.4,96.9 L313.8,105.5 L314.3,109.2 L314.8,119.8 L315.3,127.5 L315.8,131.6 L316.3,138.4 L316.8,145.3 L317.3,147.8 L317.5,150.2 L317.8,147.8 L318.3,144.4 L318.8,138.5 L319.3,131.9 L319.4,130 L319.8,125.1 L320.3,121.3 L320.8,112.3 L321.3,108.2 L321.8,103.6 L322.3,97.9 L322.8,95.4 L323.3,92.1 L323.5,91.8 L323.8,91.5 L324.3,97 L324.8,100.6 L325.3,104.6 L325.4,103.4 L325.8,111.1 L326.3,116 L326.8,123.3 L327.3,128.9 L327.8,138.8 L328.3,139.8 L328.8,145.5 L329.3,145.5 L329.8,149.1 L330.2,153.8 L330.3,150.9 L330.8,148.1 L331.3,145.2 L331.8,139.6 L332.3,135.5 L332.6,133.8 L332.8,133.9 L333.3,129.7 L333.8,127.3 L334.3,121.9 L334.8,118.2 L335.3,113.9 L335.7,112.1 L335.8,111.3 L336.3,109.3 L336.8,105.8 L337.3,103.6 L337.8,101.6 L338.1,101.6 L338.3,101.1 L338.8,103.3 L339.3,107.8 L339.8,110.7 L340,109.7 L340.3,110.5 L340.8,109.9 L341.3,111.5 L341.8,114.6 L341.9,116.5 L342.3,116.1 L342.8,113.6 L343.3,110.8 L343.8,110.7 L344.3,107.1 L344.8,111.5 L345.3,113 L345.8,117.1 L346.3,121.6 L346.7,124.7 L346.8,122.9 L347.3,125.9 L347.8,126.3 L348.3,130.3 L348.4,133.5 L348.8,129.5 L349.3,124.6 L349.8,119.6 L350.3,116.6 L350.8,109.8 L351.3,105.3 L351.8,104.3 L352.3,95.3 L352.8,92.3 L353,89.4 L353.3,94.7 L353.8,97.6 L354.3,102.5 L354.6,105.5 L354.8,108.4 L355.3,110 L355.8,113.3 L356.3,118.7 L356.8,120.2 L357.3,123.1 L357.8,123.8 L358.1,124.6 L358.3,127.1 L358.8,130.8 L359.3,135.1 L359.8,137.6 L360.3,137.1 L360.8,141 L361.3,142.8 L361.6,143.8 L361.8,143.6 L362.3,140.2 L362.8,139.4 L363.3,135.3 L363.8,136.4 L364.3,132.4 L364.8,129.9 L365.3,130.5 L365.8,134.1 L365.9,130.2 L366.3,130.6 L366.8,131.5 L367.3,131 L367.6,132 L367.8,131.9 L368.3,134.5 L368.8,133.7 L369.3,132.9 L369.8,133.6 L370,133.6 L370.3,131.8 L370.8,134.8 L371.3,133 L371.8,135.1 L372.3,134.6 L372.8,135.9 L373.3,136.8 L373.6,136 L373.8,134.5 L374.3,134.2 L374.8,134.8 L375.3,133.1 L375.8,132.7 L376,132.8 L376.3,132.4 L376.8,133.3 L377.3,131.9 L377.8,132.4 L378.3,131.3 L378.8,129.9 L379.3,132.8 L379.6,132.9 L379.8,130.8 L380.3,131.6 L380.8,130.3 L381.3,127.8 L381.8,129.8 L382.3,125.3 L382.8,126.9 L383.3,124 L383.8,118 L384.3,117.4 L384.8,110.9 L385,111.6 L385.3,106.3 L385.8,101.4 L386.1,96.9 L386.3,101.2 L386.8,102.3 L387.3,106.5 L387.8,109.6 L388,110.4 L388.3,111 L388.8,113.6 L389.3,116.1 L389.8,117.9 L390.3,119.3 L390.8,120.3 L391.3,123.1 L391.6,122.2 L391.8,123.7 L392.3,122.1 L392.8,124.6 L393.3,126 L393.8,125.4 L394.3,126.5 L394.8,129.9 L395.2,130 L395.3,130.2 L395.8,127.8 L396.3,124.7 L396.8,122.4 L397.3,119.3 L397.6,119 L397.8,114.4 L398.3,113 L398.8,111.5 L399.3,108.2 L399.8,104.3 L400,102.6 L400.3,107.1 L400.8,110.9 L401.3,114.8 L401.8,122.6 L401.9,121.8 L402.3,126 L402.8,128.4 L403.3,131.7 L403.8,139.9 L404.3,145.8 L404.8,139.1 L405.3,139.2 L405.8,138.5 L406.3,136.1 L406.7,134.3 L406.8,134.1 L407.3,132.6 L407.8,134.6 L408.3,134.1 L408.8,132.9 L409.3,129.3 L409.6,133.8 L409.8,131.7 L410.3,132.2 L410.8,133.7 L411.3,132.8 L411.8,131 L412.3,132.2 L412.8,131.5 L413.2,129.9 L413.3,130.8 L413.8,128.3 L414.3,128.4 L414.8,130.3 L415.3,131.6 L415.8,128.6 L416.3,131 L416.8,129.6 L417.3,129.9 L417.8,125.7 L418.3,128 L418.8,123.3 L419.3,120.8 L419.8,119.7 L420.3,115.6 L420.4,117.9 L420.8,114.7 L421.3,112.6 L421.8,108.6 L422.3,102.8 L422.8,99.9 L423.3,100.3 L423.8,97.6 L424.3,98.3 L424.8,94 L425.3,93.9 L425.8,91.2 L425.9,92.9 L426.3,92.7 L426.8,94.9 L427.3,95.4 L427.8,99.1 L428.3,101.4 L428.8,104.6 L429.3,109.7 L429.8,111.8 L430.3,116.9 L430.8,121.8 L431.2,124.2 L431.3,126.5 L431.8,127.8 L432.3,128.3 L432.8,129.9 L433.3,133 L433.8,134.1 L434.3,136.5 L434.8,137.7 L435.3,140.4 L435.8,140.2 L436.3,140.9 L436.8,142 L437.2,138.6 L437.3,141.2 L437.8,139.5 L438.3,139.3 L438.8,137.8 L439.3,136.4 L439.8,136 L440.3,130.9 L440.8,130.5 L441.3,131.6 L441.8,130.2 L442.3,125.8 L442.8,126.5 L443.3,124.5 L443.8,120.2 L444.3,119.4 L444.4,120.2 L444.8,120.5 L445.3,123.8 L445.8,123.3 L446.3,124.7 L446.8,123.8 L447.3,124.1 L447.8,125.9 L448,128.7 L448.3,129.4 L448.8,126.6 L449.3,127.7 L449.8,125.2 L450.3,130.1 L450.8,127.4 L451.3,130.3 L451.6,131 L451.8,127.9 L452.3,128.7 L452.8,130.9 L453.3,131.9 L453.8,129.9 L454.3,129.5 L454.8,131.4 L455.3,132.8 L455.8,130.2 L456.3,130.8 L456.4,133.2 L456.8,131.4 L457.3,129.5 L457.8,129.7 L458.3,129.5" fill="none" stroke="#1f92e4" stroke-width="1.1" stroke-opacity="0.55" stroke-linejoin="round"/><path d="M281.8,114 L282.3,116.2 L282.8,118.8 L283.3,120.1 L283.4,122.7 L283.8,124.7 L284.3,126.9 L284.8,129.2 L285.3,131.8 L285.8,135.1 L286.3,135.7 L286.8,136.8 L287.3,140.5 L287.8,141.2 L288.3,143.1 L288.8,145.6 L289.3,146.8 L289.4,147.3 L289.8,145.2 L290.3,145.9 L290.8,142 L291.3,142.9 L291.8,139.1 L292.3,137.9 L292.8,136.5 L293.3,136 L293.8,133.7 L294.3,131.4 L294.8,129.1 L295.3,129.4 L295.4,128.2 L295.8,129.2 L296.3,129.4 L296.8,129.8 L297.3,131.6 L297.8,132.1 L298.3,135.6 L298.8,137.5 L299.3,138.8 L299.8,143.5 L300.2,145 L300.3,143.6 L300.8,135.3 L301.3,131.5 L301.8,126.7 L302.3,120.2 L302.8,115.2 L303.3,105.8 L303.8,95.5 L304.3,85 L304.6,80.4 L304.8,77.5 L305.3,70 L305.6,64.3 L305.8,64.6 L306.3,65.6 L306.8,63.9 L307.2,61.9 L307.3,63.7 L307.8,65.5 L308.3,67.6 L308.8,69.1 L309.2,70.3 L309.3,69.9 L309.8,72.1 L310.3,76 L310.8,80.8 L311.2,80.6 L311.3,83.5 L311.8,85 L312.3,88.9 L312.8,93.9 L313.3,96.7 L313.4,98 L313.8,103.1 L314.3,111.8 L314.8,119.9 L315.3,125.4 L315.8,134.7 L316.3,139.5 L316.8,144.8 L317.3,146.9 L317.5,151.8 L317.8,146.9 L318.3,142.7 L318.8,137.4 L319.3,131.9 L319.4,131 L319.8,126.3 L320.3,121.1 L320.8,115.6 L321.3,108.7 L321.8,103.7 L322.3,99.6 L322.8,96.9 L323.3,91.2 L323.5,91.1 L323.8,93.2 L324.3,97.1 L324.8,101.1 L325.3,105.3 L325.4,105.5 L325.8,111 L326.3,116.8 L326.8,123.4 L327.3,129.5 L327.8,137.5 L328.3,140.5 L328.8,144.2 L329.3,145.9 L329.8,149.4 L330.2,154.4 L330.3,152.4 L330.8,146.4 L331.3,144.6 L331.8,140.5 L332.3,136.1 L332.6,133.9 L332.8,132 L333.3,128.8 L333.8,125.1 L334.3,121.3 L334.8,118.5 L335.3,114.6 L335.7,113.2 L335.8,113 L336.3,109.4 L336.8,106.8 L337.3,105.1 L337.8,101.9 L338.1,102.4 L338.3,99.2 L338.8,102 L339.3,105.6 L339.8,109.6 L340,110.9 L340.3,110.5 L340.8,112.2 L341.3,113.1 L341.8,115.2 L341.9,117.2 L342.3,111.4 L342.8,115.3 L343.3,112.8 L343.8,109.8 L344.3,109.6 L344.8,111.7 L345.3,115.1 L345.8,117.9 L346.3,121.1 L346.7,120.6 L346.8,123.7 L347.3,124.5 L347.8,127.9 L348.3,132.6 L348.4,131 L348.8,128.7 L349.3,124.2 L349.8,119.3 L350.3,112.3 L350.8,111.1 L351.3,105.9 L351.8,105.6 L352.3,94.2 L352.8,94.1 L353,89 L353.3,92.3 L353.8,101.9 L354.3,102.7 L354.6,107.9 L354.8,107.8 L355.3,109.1 L355.8,114.6 L356.3,117.9 L356.8,120.2 L357.3,127.4 L357.8,125.5 L358.1,120.9 L358.3,131.7 L358.8,131.4 L359.3,136.3 L359.8,141.7 L360.3,137.2 L360.8,142 L361.3,142.5 L361.6,143.1 L361.8,142.2 L362.3,140.9 L362.8,141.2 L363.3,137.8 L363.8,135.6 L364.3,136.9 L364.8,126.8 L365.3,131.9 L365.8,131.7 L365.9,131.4 L366.3,134.6 L366.8,131.7 L367.3,135.2 L367.6,131.4 L367.8,133.7 L368.3,132.5 L368.8,131.8 L369.3,134 L369.8,134.4 L370,130.7 L370.3,135.7 L370.8,132.9 L371.3,134.2 L371.8,127.2 L372.3,134.5 L372.8,129.9 L373.3,137.5 L373.6,133.4 L373.8,134.1 L374.3,134.3 L374.8,130.8 L375.3,133.8 L375.8,130 L376,132.5 L376.3,135.2 L376.8,136.1 L377.3,136.3 L377.8,131.8 L378.3,129.8 L378.8,133.4 L379.3,136 L379.6,129.5 L379.8,135.1 L380.3,130.4 L380.8,123.2 L381.3,129.5 L381.8,133.4 L382.3,129.5 L382.8,129.1 L383.3,123.8 L383.8,117.4 L384.3,113.2 L384.8,110.7 L385,109.8 L385.3,105.6 L385.8,99.8 L386.1,97.8 L386.3,99.9 L386.8,100.2 L387.3,104.3 L387.8,108.7 L388,110 L388.3,108.9 L388.8,116.1 L389.3,115.7 L389.8,117.2 L390.3,116.7 L390.8,120.8 L391.3,121.1 L391.6,123.9 L391.8,124 L392.3,124.6 L392.8,125.9 L393.3,125.6 L393.8,127.3 L394.3,124.9 L394.8,129.7 L395.2,129.2 L395.3,132.3 L395.8,126.6 L396.3,120.5 L396.8,123.7 L397.3,117.8 L397.6,115.6 L397.8,116.1 L398.3,115.3 L398.8,113.5 L399.3,106.5 L399.8,104.6 L400,103.4 L400.3,104.8 L400.8,110.1 L401.3,115.9 L401.8,121.1 L401.9,124.3 L402.3,121.9 L402.8,131.3 L403.3,135.6 L403.8,142.1 L404.3,143 L404.8,141 L405.3,140 L405.8,136.7 L406.3,134.6 L406.7,132.9 L406.8,132.8 L407.3,131.6 L407.8,132.1 L408.3,131.3 L408.8,131 L409.3,129.3 L409.6,133.7 L409.8,132.3 L410.3,131.4 L410.8,129.2 L411.3,132.5 L411.8,130.6 L412.3,130.7 L412.8,130.9 L413.2,130.3 L413.3,132.5 L413.8,128.8 L414.3,128.9 L414.8,130.3 L415.3,129.5 L415.8,130.8 L416.3,131.4 L416.8,132.1 L417.3,129.6 L417.8,125.5 L418.3,124.1 L418.8,122 L419.3,123.4 L419.8,118.9 L420.3,116 L420.4,115.3 L420.8,116.4 L421.3,110.4 L421.8,104.2 L422.3,107.2 L422.8,103.6 L423.3,102.3 L423.8,100.7 L424.3,98 L424.8,95.9 L425.3,93.4 L425.8,90.3 L425.9,88 L426.3,89.9 L426.8,95.1 L427.3,97.6 L427.8,98.6 L428.3,99.7 L428.8,105.5 L429.3,108.9 L429.8,113 L430.3,116.8 L430.8,120 L431.2,123.4 L431.3,125.5 L431.8,129 L432.3,131.3 L432.8,130.8 L433.3,133.7 L433.8,134.9 L434.3,137.3 L434.8,139.7 L435.3,141.1 L435.8,138 L436.3,143.9 L436.8,140.8 L437.2,139.5 L437.3,145.8 L437.8,138 L438.3,138.4 L438.8,135.5 L439.3,138.6 L439.8,128.1 L440.3,134 L440.8,128 L441.3,133.9 L441.8,133.5 L442.3,128.9 L442.8,123.3 L443.3,126.3 L443.8,127.1 L444.3,120.8 L444.4,118.9 L444.8,124.2 L445.3,118.4 L445.8,121.9 L446.3,123.5 L446.8,124.9 L447.3,128.3 L447.8,126.3 L448,124.4 L448.3,123.9 L448.8,127.2 L449.3,129 L449.8,130.5 L450.3,130.1 L450.8,125.6 L451.3,130.6 L451.6,127.8 L451.8,132.7 L452.3,129 L452.8,129.4 L453.3,128.9 L453.8,132.9 L454.3,130.5 L454.8,137.6 L455.3,134.1 L455.8,128.7 L456.3,131.7 L456.4,134.3 L456.8,133.1 L457.3,132 L457.8,130.3 L458.3,125.3" fill="none" stroke="#1f92e4" stroke-width="2.0" stroke-linejoin="round"/>
<path d="M281,24.1H459.1V166H281Z" fill="none" stroke="#444" stroke-width="1.3" stroke-linejoin="round"/><path d="M285.5,166V169.5M341.9,166V169.5M398.4,166V169.5M454.8,166V169.5M313.7,166V168.3M370.1,166V168.3M426.6,166V168.3" stroke="#4a4a4a" stroke-width="1.3"/>
<rect x="283.3" y="26.3" width="54.2" height="22.2" fill="#fff" stroke="#555" stroke-width="1.3" rx="1"/>
<text x="285.4" y="42.2" font-size="16" fill="#111" stroke="#111" stroke-width="0.3">MCF-7</text>
<text x="252.4" y="24.6" font-size="18.5" fill="#111" stroke="#111" stroke-width="0.3">B</text>
<text x="448.6" y="62.8" font-size="15" fill="#111" stroke="#111" stroke-width="0.3" text-anchor="end">100</text>
<path d="M446.8,50.9H453.9M450.4,50.9V65.4M446.8,65.4H453.9" stroke="#111" stroke-width="1.7" fill="none"/>
<text x="285.5" y="180.6" font-size="12" fill="#111" stroke="#111" stroke-width="0.3" text-anchor="middle">650</text>
<text x="341.9" y="180.6" font-size="12" fill="#111" stroke="#111" stroke-width="0.3" text-anchor="middle">1050</text>
<text x="398.4" y="180.6" font-size="12" fill="#111" stroke="#111" stroke-width="0.3" text-anchor="middle">1450</text>
<text x="454.8" y="180.6" font-size="12" fill="#111" stroke="#111" stroke-width="0.3" text-anchor="middle">1850</text>
<text x="302.9" y="196.8" font-size="16" fill="#111" stroke="#111" stroke-width="0.3">Raman shift (cm<tspan font-size="11" dx="1.4" dy="-7">-1</tspan><tspan dx="1.8" dy="7">)</tspan></text>
<text transform="translate(271.7,146) rotate(-90)" font-size="16" fill="#111" stroke="#111" stroke-width="0.3">Intensity (a.u.)</text>
<path d="M508,139.8 L508.2,139.1 L508.5,139.7 L509,137.9 L509.5,137.3 L509.7,137.6 L510,138.1 L510.5,138.4 L511,137.3 L511.5,135.3 L512,136.4 L512.5,131.6 L513,131.1 L513.5,135.7 L514,138.5 L514.5,142.4 L515,143.4 L515.3,143.7 L515.5,144.2 L516,145 L516.5,145.7 L517,147.2 L517.5,148.1 L518,149 L518.2,149 L518.5,148.6 L519,146.6 L519.5,146 L520,143.8 L520.5,143.2 L521,140.5 L521.5,137.6 L522,134.9 L522.5,130.1 L523,129.5 L523.2,128.3 L523.5,130.3 L524,131.2 L524.5,134.4 L525,135.8 L525.5,138.5 L525.7,140.1 L526,141.4 L526.5,143.2 L527,145.5 L527.2,146.9 L527.5,143.3 L528,138.3 L528.5,133.4 L529,128.3 L529.4,124.7 L529.5,124.5 L530,120.4 L530.5,116.7 L531,112.6 L531.5,109.1 L532,105.2 L532.3,103.8 L532.5,101.9 L533,98.1 L533.5,98.7 L534,97.8 L534.1,97.2 L534.5,100.9 L535,102.4 L535.5,102.9 L536,105.3 L536.5,106.8 L537,108 L537.5,109.9 L538,112.6 L538.5,114.7 L538.8,114.5 L539,116.7 L539.5,120.6 L540,124.2 L540.5,128 L541,132.5 L541.5,136.1 L541.7,137.3 L542,139.8 L542.5,142.6 L543,146 L543.5,148.3 L544,148 L544.5,145.3 L545,144 L545.5,142.2 L546,141.2 L546.4,138.8 L546.5,139.3 L547,137.5 L547.5,137 L548,134.5 L548.5,129.9 L549,130.6 L549.2,128.3 L549.5,129.5 L550,130.7 L550.5,132.2 L551,134.5 L551.5,137.5 L552,138.6 L552.5,140 L553,140.6 L553.5,142.5 L554,142.3 L554.5,143.4 L554.8,143.6 L555,145 L555.5,145.1 L556,145.4 L556.5,145.5 L557,145.4 L557.5,145.1 L557.6,145.4 L558,145.3 L558.5,143.9 L559,144.3 L559.5,142.6 L560,143.1 L560.5,142.9 L561,141.9 L561.5,141.2 L562,140 L562.5,138.5 L563,138.1 L563.3,138.1 L563.5,137.4 L564,137 L564.5,136.8 L565,135.5 L565.5,136.2 L566,135.1 L566.1,136 L566.5,135.4 L567,135.1 L567.5,136.3 L568,137.1 L568.5,136.5 L569,134.7 L569.5,134.2 L570,133.6 L570.5,131.6 L570.8,131.3 L571,131.1 L571.5,129.3 L572,129.4 L572.5,132.3 L573,133.5 L573.5,135.4 L573.6,136.5 L574,135.9 L574.5,136.7 L575,136.6 L575.5,135.8 L576,135.7 L576.4,134.7 L576.5,134.7 L577,134.3 L577.5,132.8 L578,131.2 L578.5,131.4 L579,130.5 L579.2,128.7 L579.5,131.9 L580,130.3 L580.5,133.1 L581,130 L581.1,128.7 L581.5,128 L582,131 L582.5,127.5 L583,128.1 L583.5,130.1 L584,130.6 L584.5,127 L585,128.5 L585.5,124.6 L586,124.2 L586.5,127 L586.8,126.7 L587,130.3 L587.5,129 L588,125.5 L588.5,128 L589,129.5 L589.5,128 L589.6,128.2 L590,128.5 L590.5,128.5 L591,127.8 L591.5,124.8 L592,125.6 L592.4,128.3 L592.5,132.1 L593,125.8 L593.5,127.5 L594,131.1 L594.5,126 L595,128.3 L595.5,130 L596,126.7 L596.5,129.6 L597,126.2 L597.5,127.1 L598,128.8 L598.5,128.8 L599,128.9 L599.5,129.7 L600,128.9 L600.5,127.8 L600.6,128.4 L601,126.1 L601.5,125.6 L602,119.8 L602.5,121.1 L603,123.1 L603.5,118.4 L604,119.7 L604.5,114.2 L604.8,115.9 L605,110.4 L605.5,116.2 L606,113.3 L606.5,105 L607,108.3 L607.5,108.3 L608,99.8 L608.5,92.5 L609,96.9 L609.5,97.3 L609.7,103.8 L610,95.6 L610.5,95.4 L611,107.7 L611.5,107.9 L612,109.9 L612.5,106.3 L613,107.6 L613.5,110.7 L614,118.5 L614.5,120.1 L615,120.2 L615.5,125 L616,123.7 L616.5,128.7 L617,131.6 L617.2,132.8 L617.5,130.4 L618,135.4 L618.5,133.1 L619,138.2 L619.5,134.8 L620,137.3 L620.5,132.8 L621,132.1 L621.3,131.7 L621.5,136.4 L622,135.9 L622.5,127.2 L623,125.5 L623.5,123 L624,114.7 L624.5,102.5 L625,105.1 L625.5,91.5 L626,91.3 L626.5,78.5 L626.8,69.7 L627,76.3 L627.5,78.9 L628,89.6 L628.5,94 L629,100.4 L629.5,105.5 L630,112.1 L630.5,119.8 L630.9,125.6 L631,120.2 L631.5,124.7 L632,125.9 L632.5,117 L633,124 L633.5,124.2 L634,119.7 L634.5,121 L635,118.1 L635.5,118 L636,116.4 L636.5,114.2 L637,116.4 L637.5,110.6 L638,111.6 L638.5,108 L639,107.7 L639.2,109.9 L639.5,109.5 L640,109.2 L640.5,112.5 L641,109.7 L641.5,113.5 L642,111.3 L642.5,108.9 L643,110.1 L643.3,112.3 L643.5,116.8 L644,115.6 L644.5,117.4 L645,119.4 L645.5,116.4 L646,120.8 L646.5,122.6 L647,120.7 L647.4,125.2 L647.5,122.3 L648,125 L648.5,123.8 L649,125.3 L649.5,123.3 L650,127.2 L650.5,124.3 L651,128.7 L651.5,129.3 L651.6,125.1 L652,128.1 L652.5,127.7 L653,129.6 L653.5,126.3 L654,128.4 L654.5,127.2 L655,128 L655.5,130.1 L655.7,128.3 L656,130.6 L656.5,130 L657,131.7 L657.5,134.8 L658,134.8 L658.5,136.7 L659,137.1 L659.5,136.1 L660,140.7 L660.5,141.1 L661,139.8 L661.2,143.2 L661.5,142.4 L662,141.8 L662.5,140.2 L663,138.8 L663.5,140.3 L664,139.7 L664.5,138.1 L665,138.6 L665.3,139.6 L665.5,138 L666,138.8 L666.5,138.9 L667,137.9 L667.5,137 L668,136.2 L668.5,136.1 L669,134.4 L669.5,134.7 L670,133 L670.5,133.5 L671,134.1 L671.5,134.1 L672,136.1 L672.5,136.7 L673,136.6 L673.5,136.5 L674,137.7 L674.5,137 L674.8,137.6 L675,138.6 L675.5,139 L676,138.6 L676.5,138.3 L677,140.3 L677.5,139.3 L678,140.1 L678.5,139.7 L679,140.5 L679.5,142.2 L679.9,140.7 L680,141.6 L680.5,140.9 L681,141.9 L681.5,142.6 L682,140.9 L682.5,142.2 L683,142.2 L683.5,141 L684,141 L684.5,141.3 L685,141.2 L685.3,141.6 L685.3,148.9 L685,148.7 L684.5,147.4 L684,148.5 L683.5,149 L683,147.5 L682.5,147.3 L682,148.4 L681.5,147.6 L681,147.5 L680.5,148.8 L680,147.7 L679.9,148 L679.5,148.2 L679,148.6 L678.5,147.3 L678,146.2 L677.5,146.9 L677,145.6 L676.5,145.4 L676,145.7 L675.5,146 L675,145.8 L674.8,145.2 L674.5,143.8 L674,144.5 L673.5,144.9 L673,144.2 L672.5,142.7 L672,143.3 L671.5,142.8 L671,142.9 L670.5,140.8 L670,147.2 L669.5,147.6 L669,146.2 L668.5,147.1 L668,147.6 L667.5,146.1 L667,147.8 L666.5,149.7 L666,148.7 L665.5,148.2 L665.3,149.3 L665,151.3 L664.5,151.4 L664,151.8 L663.5,151.1 L663,151.5 L662.5,155.1 L662,155.6 L661.5,157.2 L661.2,156.8 L661,153.5 L660.5,155.7 L660,152.4 L659.5,150.8 L659,152 L658.5,149.3 L658,151.5 L657.5,150.6 L657,146.8 L656.5,149.5 L656,147.6 L655.7,145.2 L655.5,144.2 L655,145.5 L654.5,143.7 L654,143.1 L653.5,148 L653,142.3 L652.5,147.3 L652,146.2 L651.6,142.9 L651.5,144.7 L651,146.3 L650.5,141.8 L650,147.4 L649.5,144 L649,144.8 L648.5,143 L648,142.6 L647.5,142.6 L647.4,143.1 L647,141.7 L646.5,148.3 L646,146.1 L645.5,142.3 L645,139.4 L644.5,141.5 L644,143.7 L643.5,144.8 L643.3,144 L643,143.2 L642.5,142 L642,138.2 L641.5,141.8 L641,136.3 L640.5,137.6 L640,134.8 L639.5,133.5 L639.2,140.2 L639,139.5 L638.5,138 L638,141.8 L637.5,138.5 L637,137.3 L636.5,138.9 L636,144.5 L635.5,142.4 L635,141 L634.5,146.8 L634,144.6 L633.5,149 L633,144.9 L632.5,147.8 L632,150.1 L631.5,153.2 L631,153.1 L630.9,149.2 L630.5,151.4 L630,147.3 L629.5,152.4 L629,143.4 L628.5,131.3 L628,129 L627.5,130.3 L627,124.1 L626.8,116.9 L626.5,128.5 L626,137.1 L625.5,130.2 L625,144 L624.5,146.5 L624,153.3 L623.5,156 L623,155.2 L622.5,153.5 L622,157.3 L621.5,156.9 L621.3,157.5 L621,158.8 L620.5,154.3 L620,154.5 L619.5,152.6 L619,150.8 L618.5,153.8 L618,148.3 L617.5,147.3 L617.2,151.3 L617,150.9 L616.5,147.8 L616,148 L615.5,148.2 L615,142.8 L614.5,141.9 L614,142.3 L613.5,138.8 L613,141.1 L612.5,141.1 L612,135.9 L611.5,138.6 L611,136.2 L610.5,136.6 L610,137.3 L609.7,134.3 L609.5,133.3 L609,131.5 L608.5,133.2 L608,139.3 L607.5,139.5 L607,138.1 L606.5,141.6 L606,145 L605.5,145.8 L605,140.7 L604.8,147.1 L604.5,142.3 L604,142.2 L603.5,147.5 L603,144.7 L602.5,144.2 L602,145.2 L601.5,148.5 L601,146.7 L600.6,151 L600.5,150.1 L600,146.7 L599.5,146.6 L599,145.5 L598.5,146.7 L598,146.3 L597.5,146 L597,146.4 L596.5,144 L596,146.5 L595.5,147.2 L595,147.6 L594.5,144.6 L594,146.7 L593.5,146.2 L593,149.6 L592.5,149.1 L592.4,148.8 L592,149.5 L591.5,147.7 L591,147.2 L590.5,149.4 L590,146.6 L589.6,146.8 L589.5,149.3 L589,147.4 L588.5,147.2 L588,148.6 L587.5,145.1 L587,147.4 L586.8,145 L586.5,147.1 L586,145.6 L585.5,144.1 L585,144.3 L584.5,144.7 L584,145.4 L583.5,144.5 L583,146.2 L582.5,145.8 L582,146.5 L581.5,147.1 L581.1,146.3 L581,147.9 L580.5,146.4 L580,146 L579.5,140.5 L579.2,138 L579,140.4 L578.5,141.4 L578,141 L577.5,143.5 L577,144.2 L576.5,145.1 L576.4,144.6 L576,145.8 L575.5,144.6 L575,145.1 L574.5,144.6 L574,146.7 L573.6,146.2 L573.5,145.1 L573,145.1 L572.5,144.2 L572,142.3 L571.5,141.4 L571,139.8 L570.8,139.2 L570.5,140.4 L570,141.9 L569.5,143.1 L569,142.6 L568.5,143.2 L568,143.1 L567.5,142.5 L567,143 L566.5,141 L566.1,141 L566,140.7 L565.5,142.7 L565,141.7 L564.5,142.9 L564,142.1 L563.5,143.7 L563.3,142.7 L563,143.9 L562.5,144.1 L562,144.7 L561.5,145.8 L561,146.9 L560.5,146.8 L560,147.7 L559.5,149 L559,148.4 L558.5,148.8 L558,150.3 L557.6,150.7 L557.5,150.5 L557,150.2 L556.5,150.2 L556,150.3 L555.5,148.8 L555,148.8 L554.8,149.3 L554.5,148.5 L554,147.4 L553.5,146.4 L553,146.3 L552.5,145.7 L552,145.1 L551.5,143.4 L551,141.9 L550.5,141.6 L550,140.1 L549.5,138 L549.2,138 L549,138.4 L548.5,139.1 L548,140.5 L547.5,142.5 L547,143 L546.5,144.2 L546.4,144.1 L546,145.1 L545.5,147 L545,148.6 L544.5,151.3 L544,152 L543.5,154.5 L543,150.9 L542.5,147.1 L542,145.2 L541.7,142.7 L541.5,140.8 L541,137.4 L540.5,133.7 L540,128.9 L539.5,125.1 L539,122 L538.8,120.6 L538.5,119.5 L538,117.4 L537.5,114.7 L537,113 L536.5,111.7 L536,110 L535.5,108.6 L535,107.9 L534.5,106.8 L534.1,106.8 L534,107.4 L533.5,108.6 L533,109.2 L532.5,110.6 L532.3,110 L532,112.8 L531.5,115.6 L531,118.5 L530.5,122.3 L530,125.2 L529.5,128.3 L529.4,129.7 L529,134 L528.5,138.4 L528,143.1 L527.5,149.1 L527.2,152.5 L527,150.5 L526.5,149.1 L526,145.5 L525.7,144.3 L525.5,144.3 L525,142.1 L524.5,141 L524,140.2 L523.5,139.3 L523.2,137.7 L523,138 L522.5,140.5 L522,142.3 L521.5,143.8 L521,146.7 L520.5,147.2 L520,149.2 L519.5,151 L519,151.3 L518.5,153.2 L518.2,154.3 L518,153.6 L517.5,152.5 L517,151.9 L516.5,151.8 L516,149.9 L515.5,149.9 L515.3,148.6 L515,148.6 L514.5,148.2 L514,147.7 L513.5,148 L513,147.5 L512.5,145.7 L512,145.5 L511.5,144.5 L511,144.1 L510.5,143.2 L510,142.6 L509.7,142.5 L509.5,143.3 L509,144.1 L508.5,143.8 L508.2,144.1 L508,144.5Z" fill="#cdcdcd"/><path d="M508,139.4V145.3M508.2,138.8V145.1M508.5,138.2V145.1M509,138.4V144.1M509.5,137V144M509.7,136.7V143.5M510,137.1V144.5M510.5,137.3V143.8M511,136.3V144.8M511.5,133.7V145.1M512,131.1V146.4M512.5,127.9V146.7M513,128.1V147.2M513.5,130.8V147.9M514,137V148.7M514.5,139.4V148.6M515,141.5V149.6M515.3,143V149.3M515.5,142.6V150.7M516,145.1V151.7M516.5,144.6V151.9M517,146.3V153M517.5,146.9V153.3M518,148.3V154.4M518.2,147.4V155.3M518.5,147.7V153.2M519,145.4V152.6M519.5,145.4V150.8M520,142.8V149.1M520.5,142V147.8M521,139.4V146.4M521.5,136.2V145.3M522,133.9V143.1M522.5,129V141.5M523,127.3V139.5M523.2,125.6V138.4M523.5,125.1V139.9M524,130V141M524.5,132.8V142.6M525,136.1V143.3M525.5,137.5V144.5M525.7,137.8V145.3M526,140.4V147.4M526.5,142.5V149.8M527,146V151.3M527.2,146V152.1M527.5,142.6V149.5M528,137.3V144.8M528.5,133.6V139.2M529,127.8V134M529.4,124.3V130.8M529.5,123.1V129.7M530,119.7V126.1M530.5,115.7V122.6M531,111.6V120.1M531.5,109.3V116.9M532,103.9V113.9M532.3,101.3V111.9M532.5,101.5V111.1M533,99.7V110.5M533.5,98V109.3M534,95.9V107.5M534.1,97.4V108.4M534.5,98.8V107.6M535,99.8V109.3M535.5,102V109.2M536,103.7V110.2M536.5,105.4V111.9M537,107V113.7M537.5,109.4V116M538,110.8V118.2M538.5,113.4V119.6M538.8,114.7V121.3M539,116.2V122.8M539.5,120.4V126.6M540,123.2V130.5M540.5,128V134.5M541,131.4V137.5M541.5,134.8V142.1M541.7,136.7V143M542,139.5V145.2M542.5,141.4V148.1M543,144.6V150.7M543.5,147.7V155.2M544,147.3V153.1M544.5,145V151.9M545,143.5V149.5M545.5,142.1V147.5M546,140.2V146.5M546.4,138.3V145.5M546.5,138V144.8M547,136.5V143.2M547.5,134.5V142.1M548,133.1V140.7M548.5,130V139.6M549,125.3V139M549.2,124.5V139M549.5,125.6V138.8M550,128.9V141.3M550.5,130.8V141.1M551,133.4V143.1M551.5,135.8V143.6M552,139.1V145.1M552.5,140V146.8M553,140.3V147.7M553.5,141.2V148.1M554,141.5V149.2M554.5,142.2V148.8M554.8,144.2V149.3M555,143.4V150.3M555.5,144V149.7M556,143.5V150.7M556.5,144.1V151.2M557,144.7V151M557.5,145V150.7M557.6,145.2V150.4M558,143.9V151.1M558.5,143.8V150.7M559,143.1V149.4M559.5,142.3V149.7M560,141.7V148.8M560.5,141V147.7M561,140.5V147M561.5,139.7V146.3M562,138.8V145.6M562.5,138V145.6M563,136.5V144.7M563.3,136.5V143.9M563.5,137V143.8M564,135.7V143.5M564.5,135.3V143.7M565,134.5V142.4M565.5,135V143.7M566,135.2V143.1M566.1,134.3V142.6M566.5,134.5V143.4M567,134.7V144M567.5,135.7V143.2M568,134.5V144.9M568.5,135.6V144.8M569,135.5V144M569.5,132.5V143.5M570,132.3V141.9M570.5,130.8V142.5M570.8,128.8V140.8M571,129V142.4M571.5,130.5V141.7M572,127.2V144.1M572.5,131.8V145.7M573,132.9V144.8M573.5,133.7V147.2M573.6,134.8V146.5M574,136.2V147.2M574.5,135.4V148.1M575,135.8V146.4M575.5,134.6V146.7M576,135.8V147.1M576.4,133.3V145M576.5,134.9V146.7M577,132.1V144.4M577.5,131.4V143.4M578,130V143.2M578.5,129.5V141.8M579,127.3V141M579.2,129.5V139.4M579.5,130.2V141.4M580,127.7V149M580.5,126.5V148.8M581,131.4V146.6M581.1,129.7V148.9M581.5,130.2V147.1M582,126.8V147.9M582.5,128V147M583,124.4V148.3M583.5,126.3V147.5M584,124.6V147.5M584.5,123.9V147.7M585,126.9V145.8M585.5,120.7V144.9M586,123.9V147M586.5,122.5V148.4M586.8,119.9V147.1M587,121.5V147M587.5,126.7V148.2M588,128.1V149.4M588.5,120.5V148.5M589,127.9V149.7M589.5,121.8V150.8M589.6,123.7V151.2M590,125.1V150.8M590.5,126.7V149.7M591,120.2V149.2M591.5,127.3V150.1M592,125.9V150.5M592.4,125.1V150.1M592.5,123.2V151.1M593,121.5V148.7M593.5,126.3V148.5M594,124.2V147.3M594.5,123.8V146.5M595,126.5V147.4M595.5,123.7V149.3M596,127.7V148.6M596.5,123.1V149.3M597,126.8V148M597.5,124V146.4M598,125.8V147.7M598.5,122.5V148.6M599,121.1V147.9M599.5,122V150.2M600,119.1V150.7M600.5,120.5V152.9M600.6,119.6V149.2M601,123.7V150.4M601.5,118.4V149.4M602,116.9V149.4M602.5,114.4V150.3M603,116.5V145.8M603.5,111.5V149.8M604,114.9V147.6M604.5,115.2V145.5M604.8,109V149M605,108.2V147.7M605.5,106.6V151M606,103.5V145.1M606.5,101.2V146.6M607,105.1V141M607.5,99.9V146.2M608,94.8V140.2M608.5,93.2V139.4M609,92.8V136.5M609.5,84.5V134.4M609.7,88.3V139.2M610,98.1V134.1M610.5,90.3V136.9M611,101.2V135.6M611.5,103.9V141.8M612,106.4V142.8M612.5,107V139.3M613,107.1V145.2M613.5,108.8V140.3M614,114.7V142.3M614.5,117.4V145.9M615,121V150.2M615.5,117.9V147.2M616,120.3V148.3M616.5,127.1V153.4M617,129.1V153M617.2,128.2V153.2M617.5,129V152.5M618,131.1V150.8M618.5,135V153.5M619,132.2V153.7M619.5,135.5V158M620,136.4V157M620.5,136.1V156.4M621,128.3V157.5M621.3,127.5V160.8M621.5,131V156.5M622,132.4V157.5M622.5,128.3V157.3M623,123.5V154.2M623.5,120.7V154.9M624,104.3V153M624.5,96.1V155.7M625,91.2V145.7M625.5,85.2V141.2M626,81.4V135.2M626.5,73.8V128.7M626.8,71.1V126.6M627,62.3V135.8M627.5,69.6V129M628,81.3V137.5M628.5,90.3V152.7M629,95.6V155.5M629.5,105.7V157.2M630,108.1V155.5M630.5,113.8V157M630.9,119.6V157M631,116.5V156M631.5,119.8V154.6M632,116.4V150.3M632.5,116.4V153.4M633,115.5V149.8M633.5,113.2V147.9M634,118.5V146.7M634.5,112.8V144.8M635,116.7V146.8M635.5,115.9V143.9M636,115.1V145.5M636.5,112.5V148.8M637,111.9V145.1M637.5,105.5V143.8M638,105.8V148.1M638.5,109.4V141.8M639,101.5V144.8M639.2,106.5V139.4M639.5,107V149.1M640,107.8V147.8M640.5,105V149.7M641,105.2V142.9M641.5,109.8V150.1M642,110.4V147.2M642.5,106.3V150.9M643,110.7V142.7M643.3,112V144.3M643.5,113.9V147.7M644,110.2V145.4M644.5,111.4V143.1M645,115.2V146.1M645.5,118.6V151M646,115.5V146.2M646.5,119.5V151.7M647,117.9V145.2M647.4,121.2V145.8M647.5,122.1V150M648,122.2V151.4M648.5,124.2V151.1M649,125V148.7M649.5,121.1V149.5M650,125.4V150.3M650.5,125V147.7M651,122.4V147.2M651.5,125.7V146.4M651.6,123.2V145.8M652,125.3V145.4M652.5,126.5V144.8M653,123.7V145.8M653.5,127.7V145.2M654,127.8V150.5M654.5,126.2V145.9M655,126V150.9M655.5,128.1V150.5M655.7,127.9V148.8M656,125.3V152.6M656.5,126.2V149M657,128.4V152.2M657.5,128.9V152.3M658,130V154M658.5,134.4V150.7M659,134.8V154.9M659.5,134.3V155M660,137.2V154.6M660.5,137.3V157.4M661,137.1V155.4M661.2,139.1V158.2M661.5,138.7V157.1M662,138.6V157.5M662.5,140.7V156.8M663,140.6V156.5M663.5,139.3V153.9M664,139.1V152.6M664.5,139.5V153.1M665,137.7V151.3M665.3,135.8V150.1M665.5,137.5V150.7M666,137.6V150.8M666.5,136.5V148.9M667,136V151M667.5,134.9V147.6M668,133.5V147.5M668.5,134.6V148.3M669,133.1V149.5M669.5,133.3V150.1M670,133.4V147.7M670.5,133.6V142.1M671,133.3V144.4M671.5,135.2V144.4M672,134.4V144.9M672.5,135.7V144.2M673,134.2V144.8M673.5,136.8V145.9M674,136.5V146.3M674.5,136.7V145.9M674.8,137.3V146.2M675,136.6V145.4M675.5,138.1V145.9M676,137.4V146.7M676.5,137.1V147.8M677,138.9V146.5M677.5,139.2V148.3M678,139.3V148.2M678.5,138.8V148.1M679,140.9V148.3M679.5,140.5V148.4M679.9,141V150.1M680,139.7V149.8M680.5,140.3V148.9M681,140.3V149.9M681.5,141.6V149M682,140.8V150M682.5,141.3V148.3M683,140.1V149.5M683.5,141.9V149M684,141.1V148.4M684.5,140.2V148.4M685,141.9V148.9M685.3,141.4V150" stroke="#c2c2c2" stroke-width="0.7" fill="none"/><path d="M508,140.8 L508.2,141.9 L508.5,142.1 L509,140.9 L509.5,140.3 L509.7,140 L510,140.3 L510.5,141.5 L511,142.4 L511.5,142.3 L512,143.1 L512.5,144.2 L513,145 L513.5,146 L514,144.3 L514.5,146.5 L515,146 L515.3,147.2 L515.5,147.7 L516,149.3 L516.5,148.2 L517,150.2 L517.5,148.3 L518,151.1 L518.2,149.6 L518.5,150 L519,148.3 L519.5,146.7 L520,146.5 L520.5,144.3 L521,143 L521.5,141.3 L522,139.6 L522.5,138.5 L523,135.9 L523.2,134.7 L523.5,134.9 L524,138 L524.5,139.1 L525,140.6 L525.5,140.9 L525.7,142.9 L526,143.9 L526.5,147.8 L527,148.2 L527.2,150.1 L527.5,147.7 L528,141.1 L528.5,136.1 L529,130.7 L529.4,126.7 L529.5,126.9 L530,123.2 L530.5,119 L531,118.5 L531.5,112.8 L532,111 L532.3,108.2 L532.5,108.3 L533,107.2 L533.5,106.3 L534,105.2 L534.1,105.7 L534.5,104.5 L535,104.7 L535.5,105.2 L536,105.7 L536.5,109.5 L537,109.6 L537.5,111.5 L538,114.8 L538.5,116.2 L538.8,117.6 L539,117 L539.5,122 L540,125.7 L540.5,130.8 L541,134.7 L541.5,138.9 L541.7,141.1 L542,144.8 L542.5,144.7 L543,148.8 L543.5,152.1 L544,149.7 L544.5,147.3 L545,147.2 L545.5,145.6 L546,143.7 L546.4,141.4 L546.5,140 L547,139.7 L547.5,140.4 L548,139.2 L548.5,136.3 L549,136.1 L549.2,136.5 L549.5,137.2 L550,136.6 L550.5,138.3 L551,139.6 L551.5,139.9 L552,143.4 L552.5,141.4 L553,144 L553.5,145.3 L554,145.7 L554.5,146.8 L554.8,144.9 L555,146.8 L555.5,147.2 L556,147.3 L556.5,146.2 L557,147.3 L557.5,147 L557.6,148.8 L558,146.8 L558.5,146.7 L559,146.1 L559.5,145.6 L560,146.6 L560.5,145.9 L561,144.3 L561.5,142.9 L562,142 L562.5,140 L563,140.7 L563.3,140.4 L563.5,139.9 L564,139 L564.5,140.3 L565,139.7 L565.5,138.8 L566,139.6 L566.1,138.5 L566.5,140.1 L567,138.9 L567.5,139.5 L568,139.3 L568.5,140.9 L569,139 L569.5,138.9 L570,137.8 L570.5,136.3 L570.8,138.2 L571,137.7 L571.5,137.6 L572,139.5 L572.5,140.1 L573,140.5 L573.5,143.3 L573.6,142.7 L574,142.2 L574.5,141.8 L575,141.6 L575.5,141.4 L576,140.7 L576.4,140.4 L576.5,140.1 L577,137.8 L577.5,137.8 L578,137.9 L578.5,137.2 L579,135.1 L579.2,133.9 L579.5,136.5 L580,137 L580.5,138.8 L581,140.5 L581.1,140.4 L581.5,143 L582,140.9 L582.5,138 L583,138.9 L583.5,137.6 L584,139 L584.5,138.1 L585,138.4 L585.5,139.8 L586,140.9 L586.5,139.4 L586.8,140.1 L587,139.5 L587.5,141.4 L588,141.2 L588.5,141.4 L589,141 L589.5,143.1 L589.6,141.7 L590,142.9 L590.5,142.9 L591,141 L591.5,141.7 L592,142 L592.4,140.9 L592.5,141.6 L593,141.4 L593.5,139.4 L594,139.9 L594.5,139.9 L595,138.8 L595.5,138.2 L596,137.1 L596.5,137.7 L597,138.3 L597.5,138.6 L598,140.3 L598.5,139.7 L599,139.8 L599.5,142.1 L600,141.7 L600.5,142.6 L600.6,142.8 L601,140.3 L601.5,138.7 L602,139.4 L602.5,135.3 L603,135.1 L603.5,135.5 L604,132.4 L604.5,132.2 L604.8,130.2 L605,132.2 L605.5,129 L606,128.4 L606.5,125.4 L607,125.8 L607.5,124.5 L608,122.3 L608.5,122 L609,120 L609.5,119.2 L609.7,118 L610,118.7 L610.5,119.1 L611,121.5 L611.5,122 L612,122.7 L612.5,125.6 L613,125.3 L613.5,126.8 L614,128 L614.5,131 L615,132 L615.5,132.9 L616,135 L616.5,137.3 L617,138.5 L617.2,140 L617.5,140.7 L618,143 L618.5,142.1 L619,143.9 L619.5,145.1 L620,146.4 L620.5,148 L621,149 L621.3,150.8 L621.5,147.9 L622,145.9 L622.5,143.3 L623,140.5 L623.5,136.7 L624,133.9 L624.5,127.3 L625,121.2 L625.5,114.3 L626,108.6 L626.5,102.7 L626.8,99.5 L627,99.1 L627.5,103.7 L628,107 L628.5,110.9 L629,114 L629.5,120.9 L630,127.8 L630.5,133.9 L630.9,138.8 L631,140 L631.5,138.4 L632,137.5 L632.5,137 L633,136.1 L633.5,135 L634,135.4 L634.5,134.1 L635,132.6 L635.5,132.6 L636,129.7 L636.5,127 L637,126.3 L637.5,124 L638,122.9 L638.5,120 L639,118.8 L639.2,117.1 L639.5,117.8 L640,119.8 L640.5,120.1 L641,122.6 L641.5,121.7 L642,123.2 L642.5,122.9 L643,126 L643.3,125.3 L643.5,124.5 L644,126.9 L644.5,127.3 L645,130.4 L645.5,130.6 L646,130.1 L646.5,132.3 L647,133.2 L647.4,133.3 L647.5,133.4 L648,133.6 L648.5,133.2 L649,134.4 L649.5,133.9 L650,134.4 L650.5,134.3 L651,134.2 L651.5,136.5 L651.6,135.2 L652,135.7 L652.5,137.4 L653,135.4 L653.5,135 L654,134.4 L654.5,134.8 L655,136.6 L655.5,135.1 L655.7,134.7 L656,137 L656.5,138 L657,140.6 L657.5,139.2 L658,142.3 L658.5,140.8 L659,144.8 L659.5,145.1 L660,145.2 L660.5,148.1 L661,148.4 L661.2,149.2 L661.5,148.4 L662,148.8 L662.5,147.9 L663,146.2 L663.5,145.7 L664,145.2 L664.5,146 L665,145.4 L665.3,144.8 L665.5,144.1 L666,143.1 L666.5,143.1 L667,142.8 L667.5,142 L668,141.9 L668.5,141.3 L669,138.9 L669.5,140.4 L670,138.9 L670.5,138.3 L671,138.8 L671.5,139.3 L672,138.8 L672.5,139.1 L673,140 L673.5,140 L674,138.5 L674.5,141.6 L674.8,139.8 L675,141.7 L675.5,141.5 L676,141.7 L676.5,143.1 L677,142.3 L677.5,142.5 L678,143.9 L678.5,144.2 L679,143.8 L679.5,144.1 L679.9,144.4 L680,145.3 L680.5,145.4 L681,145.7 L681.5,144.9 L682,144.3 L682.5,145.6 L683,147.1 L683.5,146.3 L684,144.2 L684.5,145.6 L685,144.9 L685.3,144.9" fill="none" stroke="#c8c8c8" stroke-width="5.0" stroke-linejoin="round"/><path d="M508,141.7 L508.2,141 L508.5,139.9 L509,141.6 L509.5,139.2 L509.7,139.6 L510,140.2 L510.5,141.4 L511,141.4 L511.5,142.4 L512,142.7 L512.5,144.2 L513,144.8 L513.5,146.7 L514,146.1 L514.5,145.2 L515,147.1 L515.3,147.8 L515.5,146.4 L516,147.2 L516.5,146 L517,151.3 L517.5,150.5 L518,152.7 L518.2,149.6 L518.5,147.8 L519,149.7 L519.5,146.9 L520,146.8 L520.5,144.3 L521,144.9 L521.5,141.6 L522,139.9 L522.5,138.8 L523,135.8 L523.2,135.1 L523.5,137.8 L524,137.5 L524.5,139.2 L525,140.8 L525.5,141.6 L525.7,142.6 L526,145.8 L526.5,147.3 L527,146.9 L527.2,146.9 L527.5,145.4 L528,138.6 L528.5,133 L529,129.9 L529.4,125.9 L529.5,126.6 L530,123.7 L530.5,122.5 L531,115.8 L531.5,112.7 L532,110.4 L532.3,109.5 L532.5,107.5 L533,105.7 L533.5,102.5 L534,105.6 L534.1,104.2 L534.5,106.9 L535,108 L535.5,108.8 L536,107.9 L536.5,110.2 L537,109.4 L537.5,113.4 L538,114.3 L538.5,117.8 L538.8,117 L539,118.9 L539.5,122.1 L540,129.1 L540.5,131 L541,133.6 L541.5,138.2 L541.7,138.7 L542,143.5 L542.5,146.7 L543,148.5 L543.5,151.8 L544,148.1 L544.5,150 L545,146.5 L545.5,147.4 L546,142.6 L546.4,142.6 L546.5,142.8 L547,141.6 L547.5,139.3 L548,139.6 L548.5,137.6 L549,136 L549.2,134.3 L549.5,137.7 L550,137.4 L550.5,139.1 L551,139.6 L551.5,141.3 L552,141.6 L552.5,145.9 L553,145.9 L553.5,145.3 L554,145.7 L554.5,147 L554.8,145.7 L555,147.5 L555.5,146.9 L556,146.6 L556.5,146.5 L557,146.7 L557.5,148.2 L557.6,147.7 L558,146.4 L558.5,147.3 L559,146.5 L559.5,145.7 L560,147 L560.5,144.5 L561,142.4 L561.5,143.3 L562,141.2 L562.5,142.5 L563,141.4 L563.3,139.8 L563.5,140.7 L564,139.3 L564.5,138.9 L565,137 L565.5,136.2 L566,137.9 L566.1,140.4 L566.5,137.2 L567,138.9 L567.5,138.6 L568,140.4 L568.5,139.2 L569,139.2 L569.5,139 L570,137.1 L570.5,136.7 L570.8,136.1 L571,137.4 L571.5,138.5 L572,139.7 L572.5,140.3 L573,139.6 L573.5,141.3 L573.6,142.6 L574,141.8 L574.5,142.4 L575,139.6 L575.5,139.7 L576,139.5 L576.4,140.5 L576.5,139.2 L577,137.9 L577.5,138.4 L578,136.5 L578.5,134.7 L579,135.4 L579.2,134.4 L579.5,136.2 L580,138.3 L580.5,138.9 L581,141.3 L581.1,141.8 L581.5,142.3 L582,140.8 L582.5,141.4 L583,138.9 L583.5,138.9 L584,139.8 L584.5,137 L585,137.5 L585.5,140.1 L586,140.5 L586.5,141.1 L586.8,141.2 L587,141.5 L587.5,140.1 L588,141 L588.5,141.9 L589,140.2 L589.5,140.5 L589.6,141.3 L590,143.1 L590.5,142.8 L591,140.4 L591.5,141.2 L592,141.2 L592.4,141.9 L592.5,141.9 L593,141.2 L593.5,139.6 L594,141.4 L594.5,140.9 L595,138 L595.5,138.5 L596,139.4 L596.5,138.1 L597,138.7 L597.5,138.2 L598,140.8 L598.5,138.4 L599,141.2 L599.5,142.7 L600,140.3 L600.5,143.2 L600.6,142.7 L601,140 L601.5,139.6 L602,139.7 L602.5,136.3 L603,135 L603.5,130.9 L604,131 L604.5,131.1 L604.8,130.6 L605,131 L605.5,130 L606,130 L606.5,127.3 L607,128.6 L607.5,124.8 L608,124.2 L608.5,120.5 L609,120.7 L609.5,120 L609.7,119.5 L610,118.5 L610.5,120 L611,119.7 L611.5,122.6 L612,122 L612.5,125.4 L613,125.6 L613.5,127.8 L614,129.3 L614.5,130.8 L615,132.8 L615.5,133.6 L616,133.3 L616.5,138.3 L617,137.6 L617.2,140.2 L617.5,140.5 L618,141.7 L618.5,142.8 L619,144.3 L619.5,145.5 L620,146.6 L620.5,147.8 L621,149.6 L621.3,150.8 L621.5,148.4 L622,146.1 L622.5,141.2 L623,138.8 L623.5,134.7 L624,133.3 L624.5,127.6 L625,121.6 L625.5,112.9 L626,109 L626.5,100.5 L626.8,97.3 L627,98.7 L627.5,104.8 L628,107 L628.5,112.9 L629,115.4 L629.5,120.5 L630,127.8 L630.5,135.4 L630.9,138.1 L631,138.4 L631.5,138.3 L632,137.3 L632.5,136.7 L633,138.2 L633.5,135.8 L634,134.6 L634.5,133.8 L635,132.1 L635.5,132.7 L636,129.3 L636.5,132.2 L637,126.9 L637.5,123.9 L638,121.4 L638.5,120.4 L639,119.6 L639.2,117.7 L639.5,119.6 L640,120.5 L640.5,121.2 L641,122 L641.5,122.3 L642,122.4 L642.5,122.6 L643,123 L643.3,124.8 L643.5,126.5 L644,126.7 L644.5,126.6 L645,129.8 L645.5,128.7 L646,129.4 L646.5,130.7 L647,132 L647.4,133.5 L647.5,132.2 L648,132 L648.5,134.5 L649,134.4 L649.5,134.8 L650,135.3 L650.5,134.7 L651,136.8 L651.5,134.7 L651.6,134.9 L652,136.6 L652.5,135.7 L653,135.3 L653.5,135.6 L654,134.4 L654.5,136.7 L655,135.8 L655.5,136.7 L655.7,137.8 L656,137.8 L656.5,138.4 L657,139.7 L657.5,140.5 L658,143.4 L658.5,140.5 L659,143.2 L659.5,143.9 L660,146.5 L660.5,146.9 L661,148.4 L661.2,150.9 L661.5,148.7 L662,148.9 L662.5,146.9 L663,146.1 L663.5,145.3 L664,147.5 L664.5,144.2 L665,144.4 L665.3,147.2 L665.5,144.7 L666,143.6 L666.5,142.6 L667,140.8 L667.5,141.8 L668,141.8 L668.5,138.9 L669,138.6 L669.5,140.3 L670,137.3 L670.5,138.9 L671,141 L671.5,137.9 L672,139.1 L672.5,138.6 L673,137.4 L673.5,141.8 L674,141.4 L674.5,140.8 L674.8,141.8 L675,140.8 L675.5,140.2 L676,141.5 L676.5,141.7 L677,141.8 L677.5,144.5 L678,142.7 L678.5,142.7 L679,144.6 L679.5,145.2 L679.9,146.9 L680,145.3 L680.5,143.4 L681,144 L681.5,146.1 L682,144.2 L682.5,145.5 L683,147.1 L683.5,143.3 L684,143.3 L684.5,144.8 L685,145 L685.3,146" fill="none" stroke="#1f8a24" stroke-width="1.1" stroke-opacity="0.55" stroke-linejoin="round"/><path d="M508,141.1 L508.2,142.3 L508.5,141.5 L509,140.1 L509.5,140.3 L509.7,140.5 L510,141.6 L510.5,140.9 L511,142.3 L511.5,141.8 L512,143.8 L512.5,143.9 L513,145.3 L513.5,144.1 L514,144.7 L514.5,144.9 L515,147.4 L515.3,146.4 L515.5,146 L516,147.4 L516.5,149.1 L517,149.8 L517.5,150.5 L518,150.3 L518.2,151.3 L518.5,149.5 L519,148.4 L519.5,148.3 L520,147.1 L520.5,145.1 L521,142.8 L521.5,141.4 L522,139.9 L522.5,139.1 L523,135.9 L523.2,134.6 L523.5,135.6 L524,137.1 L524.5,138.6 L525,140 L525.5,142.6 L525.7,141.7 L526,142.3 L526.5,146.6 L527,148 L527.2,149 L527.5,146.1 L528,141.5 L528.5,136.3 L529,131.3 L529.4,126.8 L529.5,126.4 L530,122.5 L530.5,119.2 L531,116.3 L531.5,113.1 L532,109.1 L532.3,107.5 L532.5,108.5 L533,107.4 L533.5,106.6 L534,105.3 L534.1,104.9 L534.5,106 L535,106.1 L535.5,106.3 L536,107.1 L536.5,109.3 L537,111.2 L537.5,112.7 L538,114.5 L538.5,116.5 L538.8,117.1 L539,120.4 L539.5,123.3 L540,125.8 L540.5,131.4 L541,134.3 L541.5,138.5 L541.7,140.2 L542,142.6 L542.5,145.2 L543,148.5 L543.5,151.3 L544,151.1 L544.5,148.1 L545,146 L545.5,144.2 L546,143.3 L546.4,141.7 L546.5,141.9 L547,140.9 L547.5,138.8 L548,138.3 L548.5,136.7 L549,135.6 L549.2,135 L549.5,136.1 L550,136.9 L550.5,138.1 L551,139.5 L551.5,140.1 L552,142.8 L552.5,143.2 L553,143.5 L553.5,144.7 L554,144.8 L554.5,146.3 L554.8,145.8 L555,146.7 L555.5,147 L556,146.9 L556.5,147.7 L557,147 L557.5,147.7 L557.6,148 L558,147.6 L558.5,146.8 L559,147.3 L559.5,146.3 L560,145.7 L560.5,144.4 L561,144 L561.5,142.8 L562,143.5 L562.5,141.7 L563,140.3 L563.3,140.7 L563.5,140.7 L564,139.4 L564.5,139.5 L565,140.5 L565.5,138.7 L566,138.6 L566.1,140.1 L566.5,138.6 L567,138.3 L567.5,138.9 L568,139.9 L568.5,140.7 L569,138.9 L569.5,137.4 L570,138.1 L570.5,136.8 L570.8,136.1 L571,136.3 L571.5,138.4 L572,138.7 L572.5,139 L573,140.2 L573.5,141.5 L573.6,141.1 L574,141.4 L574.5,142.1 L575,141.6 L575.5,141.4 L576,141 L576.4,140.3 L576.5,140.2 L577,138 L577.5,138.4 L578,137.3 L578.5,136.1 L579,135 L579.2,133.9 L579.5,135.4 L580,136.7 L580.5,139.3 L581,141.5 L581.1,141.6 L581.5,142.2 L582,140.4 L582.5,140.4 L583,139.7 L583.5,138.8 L584,138.6 L584.5,138.9 L585,138.8 L585.5,140.1 L586,139.6 L586.5,140.4 L586.8,139.6 L587,139.8 L587.5,140.7 L588,142.3 L588.5,140.6 L589,140.9 L589.5,141.5 L589.6,141.7 L590,142 L590.5,142.5 L591,141.8 L591.5,142.2 L592,141.8 L592.4,141.5 L592.5,141.4 L593,141.5 L593.5,140.8 L594,141 L594.5,139.8 L595,139.1 L595.5,138 L596,137.8 L596.5,137.9 L597,138.4 L597.5,139.7 L598,138.8 L598.5,140.1 L599,140.2 L599.5,139.5 L600,140.5 L600.5,141.9 L600.6,141.6 L601,140.4 L601.5,140.1 L602,138 L602.5,137 L603,136 L603.5,134 L604,133.3 L604.5,131 L604.8,130.1 L605,131 L605.5,129.8 L606,128.2 L606.5,126.1 L607,125.1 L607.5,123.4 L608,122.2 L608.5,121.5 L609,119.9 L609.5,119.6 L609.7,117.5 L610,118.7 L610.5,119.4 L611,120.4 L611.5,123.3 L612,124.1 L612.5,124.5 L613,125.6 L613.5,127.3 L614,128.6 L614.5,128.4 L615,130.6 L615.5,133.8 L616,133.7 L616.5,137.6 L617,138.9 L617.2,139.3 L617.5,140.1 L618,141.7 L618.5,142.2 L619,145 L619.5,145.1 L620,146.1 L620.5,149 L621,149.4 L621.3,150.3 L621.5,149.6 L622,147.1 L622.5,142.7 L623,139.8 L623.5,135.8 L624,133.6 L624.5,128.2 L625,120.4 L625.5,113.9 L626,107 L626.5,100.9 L626.8,97 L627,99.3 L627.5,103.2 L628,105.6 L628.5,110.8 L629,115.1 L629.5,121.3 L630,126.9 L630.5,134.4 L630.9,138.8 L631,138.3 L631.5,137.5 L632,136.7 L632.5,136.7 L633,136.6 L633.5,134.5 L634,133.8 L634.5,135 L635,133 L635.5,133.1 L636,130.2 L636.5,127.3 L637,126.9 L637.5,125.1 L638,121.7 L638.5,120.8 L639,119.9 L639.2,117.5 L639.5,119.1 L640,119.9 L640.5,121.7 L641,122.2 L641.5,122 L642,122.3 L642.5,123.7 L643,124.8 L643.3,125.3 L643.5,125.4 L644,126.1 L644.5,128.5 L645,128.5 L645.5,129.3 L646,130.9 L646.5,131.9 L647,132.8 L647.4,134.3 L647.5,133 L648,133.9 L648.5,134.6 L649,133.9 L649.5,134.4 L650,134.8 L650.5,134.9 L651,134.8 L651.5,134.2 L651.6,134.5 L652,135.1 L652.5,135.1 L653,135.3 L653.5,135.3 L654,134.7 L654.5,136.3 L655,135.5 L655.5,137.2 L655.7,137.9 L656,137.4 L656.5,138.4 L657,138.9 L657.5,139.8 L658,141.2 L658.5,143.2 L659,143.8 L659.5,143.9 L660,146.5 L660.5,146.8 L661,148.7 L661.2,148.7 L661.5,147.9 L662,147.6 L662.5,147.8 L663,146.6 L663.5,147.2 L664,145.4 L664.5,146.2 L665,144.1 L665.3,144 L665.5,144.7 L666,144.5 L666.5,142.7 L667,142.6 L667.5,140.8 L668,140 L668.5,139.9 L669,140.4 L669.5,138.3 L670,136.8 L670.5,136.6 L671,138.4 L671.5,139.2 L672,139 L672.5,139.7 L673,139.5 L673.5,141.1 L674,141 L674.5,140.2 L674.8,140.9 L675,142.1 L675.5,141.8 L676,140.8 L676.5,142.3 L677,142.6 L677.5,141.6 L678,143.9 L678.5,144.8 L679,144 L679.5,144.1 L679.9,144.8 L680,144.7 L680.5,144.9 L681,145.3 L681.5,144 L682,144.8 L682.5,146.1 L683,144.9 L683.5,145 L684,145.1 L684.5,144.5 L685,144.1 L685.3,146.3" fill="none" stroke="#1f8a24" stroke-width="1.7" stroke-linejoin="round"/>
<path d="M507.5,24H685.9V165.8H507.5Z" fill="none" stroke="#444" stroke-width="1.3" stroke-linejoin="round"/><path d="M511.9,165.8V169.3M568.3,165.8V169.3M624.6,165.8V169.3M681,165.8V169.3M540.1,165.8V168.1M596.5,165.8V168.1M652.8,165.8V168.1" stroke="#4a4a4a" stroke-width="1.3"/>
<rect x="509.7" y="27.8" width="102.3" height="22.2" fill="#fff" stroke="#555" stroke-width="1.3" rx="1"/>
<text x="511.7" y="43.7" font-size="16" fill="#111" stroke="#111" stroke-width="0.3">MDA-MB-231</text>
<text x="474.8" y="24.6" font-size="18.5" fill="#111" stroke="#111" stroke-width="0.3">C</text>
<text x="673.9" y="64.3" font-size="15" fill="#111" stroke="#111" stroke-width="0.5" text-anchor="end">200</text>
<path d="M672.4,52.1H680M676.2,52.1V66.3M672.4,66.3H680" stroke="#111" stroke-width="1.7" fill="none"/>
<text x="511.9" y="180.6" font-size="12" fill="#111" stroke="#111" stroke-width="0.3" text-anchor="middle">650</text>
<text x="568.3" y="180.6" font-size="12" fill="#111" stroke="#111" stroke-width="0.3" text-anchor="middle">1050</text>
<text x="624.6" y="180.6" font-size="12" fill="#111" stroke="#111" stroke-width="0.3" text-anchor="middle">1450</text>
<text x="681" y="180.6" font-size="12" fill="#111" stroke="#111" stroke-width="0.3" text-anchor="middle">1850</text>
<text x="529.4" y="196.8" font-size="16" fill="#111" stroke="#111" stroke-width="0.3">Raman shift (cm<tspan font-size="11" dx="1.4" dy="-7">-1</tspan><tspan dx="1.8" dy="7">)</tspan></text>
<text transform="translate(498.2,146) rotate(-90)" font-size="16" fill="#111" stroke="#111" stroke-width="0.3">Intensity (a.u.)</text>
<rect x="238.7" y="317" width="148.8" height="43.7" fill="#c3c1c4"/>
<rect x="387.5" y="360.7" width="148.2" height="43.6" fill="#c3c1c4"/>
<rect x="535.7" y="404.3" width="148.5" height="43.9" fill="#c3c1c4"/>
<path d="M90.4,229.9H684.2M46.9,273.3H684.2M90.4,317H684.2M90.4,360.7H684.2M90.4,404.3H684.2M46.9,448.2H684.2M46.9,273.3V448.2M90.4,229.9V448.2M238.7,273.3V448.2M387.5,273.3V448.2M535.7,273.3V448.2M684.2,229.9V448.2" stroke="#1a1a1a" stroke-width="2" fill="none" stroke-linecap="square"/>
<text x="23.5" y="227.2" font-size="18.5" fill="#111" stroke="#111" stroke-width="0.3">D</text>
<text x="386.8" y="258.3" font-size="18.5" fill="#111" stroke="#111" stroke-width="0.3" text-anchor="middle">Predicted labels</text>
<text x="313.4" y="301.7" font-size="18.5" fill="#d0212b" stroke="#d0212b" stroke-width="0.3" text-anchor="middle">MCF-10A</text>
<text x="461.9" y="301.7" font-size="18.5" fill="#2196dc" stroke="#2196dc" stroke-width="0.3" text-anchor="middle">MCF-7</text>
<text x="610.2" y="301.7" font-size="18.5" fill="#23902c" stroke="#23902c" stroke-width="0.3" text-anchor="middle">MDA-MB-231</text>
<text x="164.7" y="345.9" font-size="18.5" fill="#d0212b" stroke="#d0212b" stroke-width="0.3" text-anchor="middle">MCF-10A</text>
<text x="313.1" y="345.9" font-size="18.5" fill="#111" stroke="#111" stroke-width="0.3" text-anchor="middle">60</text>
<text x="461.6" y="345.9" font-size="18.5" fill="#111" stroke="#111" stroke-width="0.3" text-anchor="middle">0</text>
<text x="610" y="345.9" font-size="18.5" fill="#111" stroke="#111" stroke-width="0.3" text-anchor="middle">0</text>
<text x="164.7" y="389.6" font-size="18.5" fill="#2196dc" stroke="#2196dc" stroke-width="0.3" text-anchor="middle">MCF-7</text>
<text x="313.1" y="389.6" font-size="18.5" fill="#111" stroke="#111" stroke-width="0.3" text-anchor="middle">0</text>
<text x="461.6" y="389.6" font-size="18.5" fill="#111" stroke="#111" stroke-width="0.3" text-anchor="middle">60</text>
<text x="610" y="389.6" font-size="18.5" fill="#111" stroke="#111" stroke-width="0.3" text-anchor="middle">0</text>
<text x="164.7" y="433.3" font-size="18.5" fill="#23902c" stroke="#23902c" stroke-width="0.3" text-anchor="middle">MDA-MB-231</text>
<text x="313.1" y="433.3" font-size="18.5" fill="#111" stroke="#111" stroke-width="0.3" text-anchor="middle">10</text>
<text x="461.6" y="433.3" font-size="18.5" fill="#111" stroke="#111" stroke-width="0.3" text-anchor="middle">0</text>
<text x="610" y="433.3" font-size="18.5" fill="#111" stroke="#111" stroke-width="0.3" text-anchor="middle">50</text>
<text transform="translate(73.9,411.9) rotate(-90)" font-size="18.1" fill="#111" stroke="#111" stroke-width="0.3">Actual labels</text>
</svg>
</body></html>
